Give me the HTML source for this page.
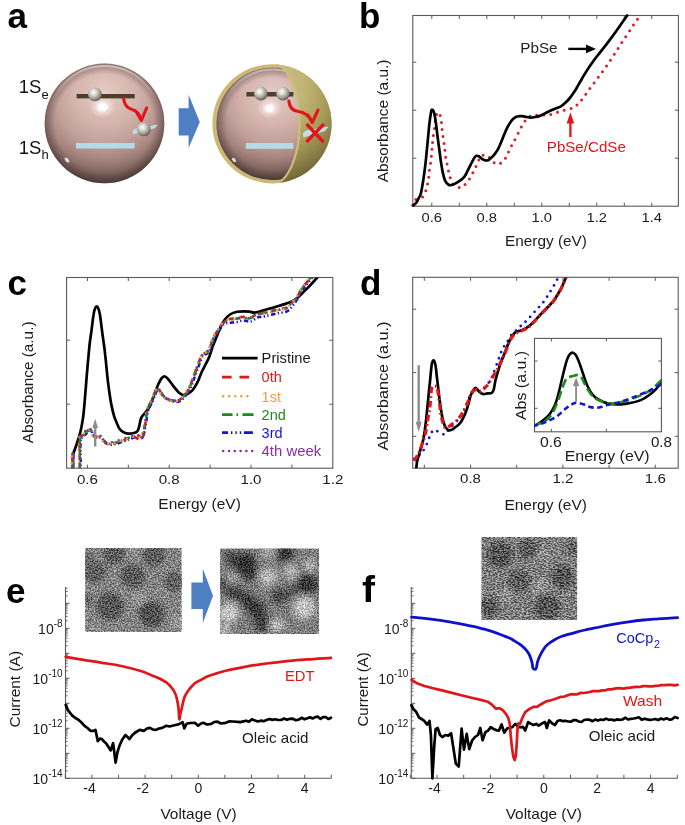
<!DOCTYPE html>
<html><head><meta charset="utf-8"><style>
html,body{margin:0;padding:0;background:#fff;}
svg{display:block;will-change:transform;}
</style></head><body>
<svg width="685" height="825" viewBox="0 0 685 825">
<rect width="685" height="825" fill="#fff"/>
<text font-family="Liberation Sans, sans-serif" x="7.5" y="28" font-size="35" fill="#000" font-weight="bold" >a</text>
<text font-family="Liberation Sans, sans-serif" x="359" y="28" font-size="35" fill="#000" font-weight="bold" >b</text>
<text font-family="Liberation Sans, sans-serif" x="7.5" y="294.5" font-size="35" fill="#000" font-weight="bold" >c</text>
<text font-family="Liberation Sans, sans-serif" x="360" y="294.5" font-size="35" fill="#000" font-weight="bold" >d</text>
<text font-family="Liberation Sans, sans-serif" x="6" y="602.5" font-size="35" fill="#000" font-weight="bold" >e</text>
<text font-family="Liberation Sans, sans-serif" x="362" y="602" font-size="36" font-weight="bold" fill="#000" textLength="13" lengthAdjust="spacingAndGlyphs">f</text>
<defs>
<radialGradient id="pink" cx="0.5" cy="0.25" r="0.85" fx="0.5" fy="0.25">
 <stop offset="0" stop-color="#e6cbc4"/>
 <stop offset="0.3" stop-color="#d5b5ae"/>
 <stop offset="0.5" stop-color="#c2a09a"/>
 <stop offset="0.65" stop-color="#a6857f"/>
 <stop offset="0.76" stop-color="#876963"/>
 <stop offset="0.86" stop-color="#624d49"/>
 <stop offset="1" stop-color="#463735"/>
</radialGradient>
<radialGradient id="edge" cx="0.5" cy="0.5" r="0.5">
 <stop offset="0.82" stop-color="#3a2a28" stop-opacity="0"/>
 <stop offset="0.97" stop-color="#3a2a28" stop-opacity="0.35"/>
 <stop offset="1" stop-color="#3a2a28" stop-opacity="0.5"/>
</radialGradient>
<radialGradient id="spec" cx="0.5" cy="0.5" r="0.5">
 <stop offset="0" stop-color="#ffffff" stop-opacity="1"/>
 <stop offset="0.3" stop-color="#ffffff" stop-opacity="0.95"/>
 <stop offset="0.55" stop-color="#fff4f0" stop-opacity="0.45"/>
 <stop offset="1" stop-color="#ffffff" stop-opacity="0"/>
</radialGradient>
<radialGradient id="olive" cx="0.4" cy="0.2" r="0.95" fx="0.4" fy="0.2">
 <stop offset="0" stop-color="#d6ca90"/>
 <stop offset="0.4" stop-color="#c0b475"/>
 <stop offset="0.62" stop-color="#a59958"/>
 <stop offset="0.82" stop-color="#7a703e"/>
 <stop offset="1" stop-color="#4c4628"/>
</radialGradient>
<clipPath id="outerclip"><circle cx="272" cy="123.8" r="59.6"/></clipPath>
<radialGradient id="ball" cx="0.4" cy="0.35" r="0.65">
 <stop offset="0" stop-color="#ffffff"/>
 <stop offset="0.35" stop-color="#d8d8cc"/>
 <stop offset="0.8" stop-color="#8c8c80"/>
 <stop offset="1" stop-color="#5c5c52"/>
</radialGradient>
<linearGradient id="rimg" x1="0" y1="0" x2="0" y2="1">
 <stop offset="0" stop-color="#fff" stop-opacity="0.55"/>
 <stop offset="0.3" stop-color="#fff" stop-opacity="0"/>
</linearGradient>
<clipPath id="shellclip"><path d="M271.1,62.6 A28.5,61.1 0 0 1 271.1,184.8 L340,184.8 L340,62.6 Z"/></clipPath>
</defs>
<circle cx="104.5" cy="123.4" r="59.8" fill="url(#pink)"/>
<circle cx="104.5" cy="123.4" r="59.8" fill="url(#edge)"/>
<circle cx="104.5" cy="121" r="55" fill="none" stroke="url(#rimg)" stroke-width="2.2" opacity="0.8"/>
<ellipse cx="102.5" cy="107" rx="13" ry="11" fill="url(#spec)"/>
<ellipse cx="67" cy="160" rx="3" ry="1.6" transform="rotate(50 67 160)" fill="#fff" opacity="0.8"/>
<rect x="76.6" y="94" width="58.1" height="4.4" fill="#4c3f2c"/>
<rect x="76" y="143" width="58.7" height="5.5" fill="#b4dbe6"/>
<circle cx="94.9" cy="94.4" r="6.9" fill="url(#ball)"/>
<path d="M132.5,131 L136,128.6 L158,124.4 L154.5,128.2 L133,134.2 Z" fill="#c2dcec"/>
<circle cx="143.8" cy="129.4" r="6.9" fill="url(#ball)"/>
<path d="M123.5,98.6 C124.5,105 127.5,108.5 132,109.5 C136,110.3 139,113 141.4,120" fill="none" stroke="#e0161b" stroke-width="3.1" stroke-linejoin="round" stroke-linecap="round"/>
<path d="M137.2,113.5 L141.4,120.4 L146.6,108" fill="none" stroke="#e0161b" stroke-width="3.1" stroke-linejoin="round" stroke-linecap="round"/>
<path d="M178.7,108.3 L188.6,108.3 L188.6,94.7 L199.8,122 L188.6,148 L188.6,135.6 L178.7,135.6 Z" fill="#4f7fc3"/>
<circle cx="272" cy="123.8" r="59.6" fill="#cdb874"/>
<circle cx="272.8" cy="123.8" r="56.3" fill="url(#pink)"/>
<circle cx="272.8" cy="123.8" r="56.3" fill="url(#edge)"/>
<circle cx="272.8" cy="121.5" r="52" fill="none" stroke="url(#rimg)" stroke-width="2" opacity="0.7"/>
<circle cx="272" cy="123.8" r="59.6" fill="url(#olive)" clip-path="url(#shellclip)"/>
<path d="M271.1,62.6 A28.5,61.1 0 0 1 271.1,184.8" fill="none" stroke="#d0bc7c" stroke-width="2.2" clip-path="url(#outerclip)"/>
<ellipse cx="269.5" cy="108.5" rx="12" ry="10" fill="url(#spec)"/>
<ellipse cx="234" cy="160" rx="2.6" ry="1.5" transform="rotate(50 234 160)" fill="#fff" opacity="0.8"/>
<rect x="246.4" y="92" width="47" height="4.5" fill="#4c3f2c"/>
<rect x="245.7" y="143" width="47.7" height="5.8" fill="#b4dbe6"/>
<circle cx="260.8" cy="93.6" r="6.8" fill="url(#ball)"/>
<circle cx="283" cy="93.6" r="6.8" fill="url(#ball)"/>
<path d="M302.8,133 L306,130.6 L328.8,126.2 L325,131 L303.5,137.6 Z" fill="#c2dcec"/>
<path d="M288.8,101 C289.5,108 293.5,111 298.5,111.5 C303.5,112 308,114 312.3,122" fill="none" stroke="#e0161b" stroke-width="3.1" stroke-linejoin="round" stroke-linecap="round"/>
<path d="M307.8,115 L312.4,122.4 L318,110" fill="none" stroke="#e0161b" stroke-width="3.1" stroke-linejoin="round" stroke-linecap="round"/>
<path d="M307.5,125 L322.5,141 M323,125 L307.3,141" fill="none" stroke="#e0161b" stroke-width="3.3" stroke-linejoin="round" stroke-linecap="round"/>
<text font-family="Liberation Sans, sans-serif" x="18.8" y="93.3" font-size="18.5" fill="#111">1S<tspan font-size="13" dy="5.3">e</tspan></text>
<text font-family="Liberation Sans, sans-serif" x="18.8" y="154" font-size="18.5" fill="#111">1S<tspan font-size="13" dy="5.3">h</tspan></text>
<rect x="412.8" y="15.5" width="265.6" height="190.7" fill="none" stroke="#5a5a5a" stroke-width="1.1"/>
<line x1="431.8" y1="206.2" x2="431.8" y2="202.7" stroke="#5a5a5a" stroke-width="1" />
<line x1="431.8" y1="15.5" x2="431.8" y2="19" stroke="#5a5a5a" stroke-width="1" />
<line x1="459.3" y1="206.2" x2="459.3" y2="202.7" stroke="#5a5a5a" stroke-width="1" />
<line x1="459.3" y1="15.5" x2="459.3" y2="19" stroke="#5a5a5a" stroke-width="1" />
<line x1="486.8" y1="206.2" x2="486.8" y2="202.7" stroke="#5a5a5a" stroke-width="1" />
<line x1="486.8" y1="15.5" x2="486.8" y2="19" stroke="#5a5a5a" stroke-width="1" />
<line x1="514.3" y1="206.2" x2="514.3" y2="202.7" stroke="#5a5a5a" stroke-width="1" />
<line x1="514.3" y1="15.5" x2="514.3" y2="19" stroke="#5a5a5a" stroke-width="1" />
<line x1="541.8" y1="206.2" x2="541.8" y2="202.7" stroke="#5a5a5a" stroke-width="1" />
<line x1="541.8" y1="15.5" x2="541.8" y2="19" stroke="#5a5a5a" stroke-width="1" />
<line x1="569.3" y1="206.2" x2="569.3" y2="202.7" stroke="#5a5a5a" stroke-width="1" />
<line x1="569.3" y1="15.5" x2="569.3" y2="19" stroke="#5a5a5a" stroke-width="1" />
<line x1="596.8" y1="206.2" x2="596.8" y2="202.7" stroke="#5a5a5a" stroke-width="1" />
<line x1="596.8" y1="15.5" x2="596.8" y2="19" stroke="#5a5a5a" stroke-width="1" />
<line x1="624.3" y1="206.2" x2="624.3" y2="202.7" stroke="#5a5a5a" stroke-width="1" />
<line x1="624.3" y1="15.5" x2="624.3" y2="19" stroke="#5a5a5a" stroke-width="1" />
<line x1="651.8" y1="206.2" x2="651.8" y2="202.7" stroke="#5a5a5a" stroke-width="1" />
<line x1="651.8" y1="15.5" x2="651.8" y2="19" stroke="#5a5a5a" stroke-width="1" />
<line x1="412.8" y1="158.2" x2="416.3" y2="158.2" stroke="#5a5a5a" stroke-width="1" />
<line x1="678.4" y1="158.2" x2="674.9" y2="158.2" stroke="#5a5a5a" stroke-width="1" />
<line x1="412.8" y1="110.2" x2="416.3" y2="110.2" stroke="#5a5a5a" stroke-width="1" />
<line x1="678.4" y1="110.2" x2="674.9" y2="110.2" stroke="#5a5a5a" stroke-width="1" />
<line x1="412.8" y1="62.2" x2="416.3" y2="62.2" stroke="#5a5a5a" stroke-width="1" />
<line x1="678.4" y1="62.2" x2="674.9" y2="62.2" stroke="#5a5a5a" stroke-width="1" />
<text font-family="Liberation Sans, sans-serif" x="431.8" y="222" font-size="13.5" fill="#1a1a1a" text-anchor="middle" textLength="20.5" lengthAdjust="spacingAndGlyphs" >0.6</text>
<text font-family="Liberation Sans, sans-serif" x="486.8" y="222" font-size="13.5" fill="#1a1a1a" text-anchor="middle" textLength="20.5" lengthAdjust="spacingAndGlyphs" >0.8</text>
<text font-family="Liberation Sans, sans-serif" x="541.8" y="222" font-size="13.5" fill="#1a1a1a" text-anchor="middle" textLength="20.5" lengthAdjust="spacingAndGlyphs" >1.0</text>
<text font-family="Liberation Sans, sans-serif" x="596.8" y="222" font-size="13.5" fill="#1a1a1a" text-anchor="middle" textLength="20.5" lengthAdjust="spacingAndGlyphs" >1.2</text>
<text font-family="Liberation Sans, sans-serif" x="651.8" y="222" font-size="13.5" fill="#1a1a1a" text-anchor="middle" textLength="20.5" lengthAdjust="spacingAndGlyphs" >1.4</text>
<text font-family="Liberation Sans, sans-serif" x="546" y="246.4" font-size="14.5" fill="#1a1a1a" text-anchor="middle" textLength="81.8" lengthAdjust="spacingAndGlyphs" >Energy (eV)</text>
<text font-family="Liberation Sans, sans-serif" x="388.3" y="120.9" font-size="14.5" fill="#1a1a1a" text-anchor="middle" textLength="122.8" lengthAdjust="spacingAndGlyphs" transform="rotate(-90 388.3 120.9)" >Absorbance (a.u.)</text>
<path d="M412.8,205 C413,204.2 413.1,201.4 414,200.4 C414.9,199.4 416.4,199.5 418,198.8 C419.6,198.1 421.9,197.8 423.3,196.3 C424.7,194.8 425.4,192.1 426.1,189.9 C426.9,187.7 427.3,185.2 427.8,182.9 C428.3,180.6 428.6,178.3 428.9,176 C429.2,173.7 429.2,171.4 429.5,169.1 C429.8,166.8 430.4,164.6 430.7,162.2 C431,159.8 431.3,157.1 431.5,154.7 C431.7,152.3 431.9,150.1 432.1,147.8 C432.3,145.5 432.4,143.3 432.7,140.9 C432.9,138.5 433.3,135.7 433.6,133.4 C433.9,131.1 434.4,129.4 434.7,127.1 C435,124.8 435.1,121.9 435.5,119.6 C435.9,117.3 436.4,114.3 437,113.2 C437.6,112.1 438.2,112.2 438.8,112.8 C439.4,113.4 440,114.9 440.5,116.7 C441,118.5 441.3,121.3 441.6,123.6 C441.9,125.9 441.9,128.2 442.2,130.5 C442.4,132.8 442.8,135 443.1,137.4 C443.5,139.8 444,142.5 444.3,144.9 C444.6,147.3 444.8,149.5 445.1,151.8 C445.4,154.1 445.5,156.5 445.9,158.8 C446.3,161.1 446.9,163.4 447.4,165.7 C447.9,168 448.3,170.3 448.9,172.6 C449.5,174.9 450,177.5 450.8,179.5 C451.6,181.5 452.2,183.3 453.7,184.7 C455.1,186 457.8,187.5 459.5,187.6 C461.2,187.7 462.4,186.9 464,185.5 C465.6,184.1 467.4,182.3 469.3,179.3 C471.2,176.3 473.5,171.4 475.4,167.7 C477.3,163.9 479.1,158.9 480.5,156.8 C481.9,154.7 482.5,155.5 483.5,155.3 C484.5,155.1 485.7,155.1 486.6,155.4 C487.6,155.7 488.4,156.5 489.2,157.3 C490,158.2 490.8,159.5 491.7,160.5 C492.6,161.5 493.8,162.6 494.8,163.2 C495.8,163.8 496.9,164.2 497.9,164.2 C498.9,164.2 500,163.6 501,163 C502,162.4 503,161.8 504,160.5 C505,159.2 506.2,157.1 507.2,155 C508.2,152.9 508.9,150.5 510.1,148.2 C511.3,145.9 512.5,144.3 514.2,141.1 C515.9,137.9 518.7,132 520.4,128.8 C522.1,125.6 523,123.6 524.4,121.7 C525.8,119.8 527.1,118.5 528.5,117.5 C529.9,116.5 530.2,115.9 532.6,115.5 C535,115.1 539.9,115.2 542.8,115.1 C545.7,114.9 547.3,115.2 550.2,114.6 C553.1,113.9 557.2,112.1 560.4,111.2 C563.6,110.3 567.1,110 569.6,109.1 C572.1,108.2 573.7,107.4 575.6,106 C577.5,104.6 578.7,103.6 580.9,100.9 C583.1,98.2 586.1,93.6 589,89.7 C591.9,85.8 595.3,81.3 598.2,77.4 C601.1,73.5 603.7,70.1 606.4,66.2 C609.1,62.3 612,57.8 614.6,53.9 C617.2,50 619.2,46.6 621.7,42.7 C624.2,38.8 627.9,33.5 629.9,30.4 C631.9,27.3 632.6,26.3 634,24.3 C635.4,22.3 637.1,19.7 638.1,18.2 C639.1,16.7 639.5,15.9 639.8,15.5" fill="none" stroke="#d81e28" stroke-width="3.0" stroke-linejoin="round" stroke-linecap="round" stroke-dasharray="0 7"/>
<path d="M413.1,205.5 C413.7,205 415.5,203.8 416.5,202.5 C417.5,201.2 418.3,199 419,197.5 C419.7,196 420.2,196.1 420.9,193.3 C421.6,190.5 422.4,185.6 423.2,180.6 C424,175.6 424.7,170.1 425.5,163.4 C426.3,156.7 427.1,147 427.8,140.3 C428.5,133.6 428.9,127.8 429.5,123 C430.1,118.2 430.7,113.7 431.2,111.5 C431.7,109.3 431.9,109.6 432.4,109.8 C432.9,110 433.5,110.5 434.1,112.7 C434.7,114.9 435.3,119 435.9,123 C436.5,127 437,132.5 437.6,136.9 C438.2,141.3 438.7,145.3 439.3,149.5 C439.9,153.7 440.4,158.3 441,162.2 C441.6,166 442.1,169.5 442.8,172.6 C443.5,175.7 444.2,178.6 445.1,180.6 C446.1,182.6 447.2,184 448.5,184.7 C449.8,185.4 451.2,185.1 452.6,184.7 C454.1,184.3 455.8,183.2 457.2,182.4 C458.6,181.6 459.9,180.9 461.1,179.9 C462.3,178.9 463.5,177.9 464.5,176.5 C465.5,175.1 466.3,173.4 467.2,171.7 C468.1,169.9 469.1,167.7 470,166 C470.9,164.3 471.6,162.9 472.3,161.5 C473.1,160.1 473.8,158.4 474.5,157.5 C475.2,156.6 475.7,156 476.4,155.8 C477.1,155.6 477.9,155.9 478.8,156.3 C479.7,156.8 480.6,157.9 481.5,158.5 C482.4,159.1 483.1,159.7 484,160 C484.9,160.3 485.8,160.5 486.6,160.5 C487.4,160.5 488.1,160.3 489,159.8 C489.9,159.3 490.7,158.4 491.7,157.4 C492.7,156.4 494,154.9 495,153.6 C496,152.2 496.9,151.2 497.9,149.3 C498.9,147.5 500,144.9 501,142.5 C502,140.1 503,137.4 504,135 C505,132.6 506,130.2 507,128.2 C508,126.1 509.1,124.2 510.1,122.7 C511.1,121.2 512,120 513,119 C514,118 515.2,117.3 516.3,116.8 C517.4,116.3 518.5,116.3 519.5,116.2 C520.5,116.1 521.2,116.1 522.4,116.2 C523.6,116.3 525.1,116.8 526.5,117 C527.9,117.2 529.1,117.6 530.6,117.6 C532.1,117.6 533.8,117.3 535.5,117 C537.2,116.7 538.7,116.4 540.8,115.5 C542.9,114.6 545.6,113 548.2,111.8 C550.8,110.6 554.2,109.2 556.3,108.3 C558.4,107.4 559.6,107.1 561,106.3 C562.4,105.5 563.4,104.6 564.5,103.6 C565.6,102.6 566.7,101.6 567.7,100.5 C568.7,99.4 569.7,98.2 570.7,96.9 C571.7,95.6 572.8,94 573.8,92.5 C574.8,91 575.7,89.6 576.8,87.7 C577.9,85.8 579.3,83.3 580.5,81.3 C581.7,79.2 582.7,77.4 583.9,75.4 C585.1,73.5 586.3,71.5 587.5,69.6 C588.7,67.7 589.7,66.2 591.1,64.2 C592.5,62.2 594.3,59.7 596,57.5 C597.7,55.3 598.7,54.2 601.3,50.9 C603.9,47.6 608.1,42.2 611.5,37.6 C614.9,33 619.1,27 621.7,23.3 C624.3,19.6 626.3,16.8 627.2,15.5" fill="none" stroke="#000" stroke-width="2.7" stroke-linejoin="round" stroke-linecap="round"/>
<text font-family="Liberation Sans, sans-serif" x="520.2" y="53.1" font-size="14.5" fill="#222" textLength="37.4" lengthAdjust="spacingAndGlyphs" >PbSe</text>
<line x1="568.3" y1="48.9" x2="588" y2="48.9" stroke="#000" stroke-width="2.4" />
<path d="M586,44.6 L596,48.9 L586,53.2 Z" fill="#000"/>
<line x1="570.4" y1="137" x2="570.4" y2="122" stroke="#e0161b" stroke-width="2.3" />
<path d="M566.6,123.5 L570.4,112.2 L574.2,123.5 Z" fill="#e0161b"/>
<text font-family="Liberation Sans, sans-serif" x="546.8" y="152.4" font-size="14.5" fill="#e0161b" textLength="79" lengthAdjust="spacingAndGlyphs" >PbSe/CdSe</text>
<clipPath id="clipc"><rect x="66.6" y="277.5" width="266.20000000000005" height="190.7"/></clipPath>
<rect x="66.6" y="277.5" width="266.2" height="190.7" fill="none" stroke="#5a5a5a" stroke-width="1.1"/>
<line x1="87.4" y1="468.2" x2="87.4" y2="464.7" stroke="#5a5a5a" stroke-width="1" />
<line x1="87.4" y1="277.5" x2="87.4" y2="281" stroke="#5a5a5a" stroke-width="1" />
<line x1="128.3" y1="468.2" x2="128.3" y2="464.7" stroke="#5a5a5a" stroke-width="1" />
<line x1="128.3" y1="277.5" x2="128.3" y2="281" stroke="#5a5a5a" stroke-width="1" />
<line x1="169.2" y1="468.2" x2="169.2" y2="464.7" stroke="#5a5a5a" stroke-width="1" />
<line x1="169.2" y1="277.5" x2="169.2" y2="281" stroke="#5a5a5a" stroke-width="1" />
<line x1="210.1" y1="468.2" x2="210.1" y2="464.7" stroke="#5a5a5a" stroke-width="1" />
<line x1="210.1" y1="277.5" x2="210.1" y2="281" stroke="#5a5a5a" stroke-width="1" />
<line x1="251" y1="468.2" x2="251" y2="464.7" stroke="#5a5a5a" stroke-width="1" />
<line x1="251" y1="277.5" x2="251" y2="281" stroke="#5a5a5a" stroke-width="1" />
<line x1="291.9" y1="468.2" x2="291.9" y2="464.7" stroke="#5a5a5a" stroke-width="1" />
<line x1="291.9" y1="277.5" x2="291.9" y2="281" stroke="#5a5a5a" stroke-width="1" />
<line x1="66.6" y1="340.2" x2="70.1" y2="340.2" stroke="#5a5a5a" stroke-width="1" />
<line x1="332.8" y1="340.2" x2="329.3" y2="340.2" stroke="#5a5a5a" stroke-width="1" />
<line x1="66.6" y1="404.2" x2="70.1" y2="404.2" stroke="#5a5a5a" stroke-width="1" />
<line x1="332.8" y1="404.2" x2="329.3" y2="404.2" stroke="#5a5a5a" stroke-width="1" />
<text font-family="Liberation Sans, sans-serif" x="87.4" y="483.5" font-size="13.5" fill="#1a1a1a" text-anchor="middle" textLength="21" lengthAdjust="spacingAndGlyphs" >0.6</text>
<text font-family="Liberation Sans, sans-serif" x="169.2" y="483.5" font-size="13.5" fill="#1a1a1a" text-anchor="middle" textLength="21" lengthAdjust="spacingAndGlyphs" >0.8</text>
<text font-family="Liberation Sans, sans-serif" x="251" y="483.5" font-size="13.5" fill="#1a1a1a" text-anchor="middle" textLength="21" lengthAdjust="spacingAndGlyphs" >1.0</text>
<text font-family="Liberation Sans, sans-serif" x="332.8" y="483.5" font-size="13.5" fill="#1a1a1a" text-anchor="middle" textLength="21" lengthAdjust="spacingAndGlyphs" >1.2</text>
<text font-family="Liberation Sans, sans-serif" x="199.6" y="508.8" font-size="14.5" fill="#1a1a1a" text-anchor="middle" textLength="82.5" lengthAdjust="spacingAndGlyphs" >Energy (eV)</text>
<text font-family="Liberation Sans, sans-serif" x="32.6" y="382.4" font-size="14.5" fill="#1a1a1a" text-anchor="middle" textLength="121.8" lengthAdjust="spacingAndGlyphs" transform="rotate(-90 32.6 382.4)" >Absorbance (a.u.)</text>
<g clip-path="url(#clipc)">
<path d="M72.2,458 C72.4,457.2 72.9,455 73.5,453 C74.1,451 75.2,448.5 76,446.1 C76.8,443.7 77.8,440.9 78.5,438.5 C79.2,436.1 79.8,434.5 80.4,431.9 C81,429.3 81.7,426.3 82.2,423 C82.8,419.7 83.2,417.4 83.7,412.3 C84.2,407.2 84.9,399.1 85.4,392.5 C86,385.9 86.5,378.4 87,372.7 C87.5,367 87.8,363 88.3,358.1 C88.8,353.2 89.1,348.4 89.7,343.5 C90.3,338.6 91.1,333.9 91.7,329 C92.3,324.1 93,317.8 93.6,314.4 C94.1,311 94.5,310 95,308.6 C95.5,307.2 96.1,306.3 96.7,306.3 C97.3,306.3 97.9,307.2 98.4,308.6 C98.9,310 99.3,311 99.9,314.4 C100.5,317.8 101.2,324.1 101.8,329 C102.4,333.9 103.2,339.2 103.8,343.5 C104.4,347.8 104.8,351 105.2,355 C105.7,359 106.1,363.5 106.5,367.7 C106.9,371.9 107.3,376.1 107.8,380.4 C108.3,384.6 108.9,388.9 109.5,393.2 C110.1,397.4 110.8,402.1 111.6,405.9 C112.4,409.7 113.2,413.1 114.1,416.1 C115,419.1 116.2,421.6 117.1,423.7 C118,425.8 118.5,427.4 119.5,428.8 C120.5,430.2 121.5,431.1 122.9,431.9 C124.3,432.7 126.2,433.4 128,433.6 C129.8,433.8 132.5,433.3 133.9,433 C135.3,432.7 135.8,432.6 136.5,432 C137.2,431.4 137.7,430.9 138.2,429.7 C138.7,428.5 139.1,426.8 139.5,425 C139.9,423.2 140.4,420.3 140.9,418.8 C141.4,417.3 141.8,416.7 142.3,416 C142.8,415.3 142.7,415.7 143.7,414.5 C144.7,413.3 146.9,410.9 148.1,409 C149.3,407.1 149.9,405.5 151,403 C152.1,400.5 153.3,397.1 154.5,394 C155.7,390.9 157,387.1 158.2,384.5 C159.4,381.9 160.4,379.8 161.5,378.4 C162.6,377 163.4,376.3 164.5,376.4 C165.6,376.5 166.7,377.4 168.2,379.1 C169.7,380.8 171.8,384.1 173.6,386.4 C175.4,388.7 177.4,391.2 179.1,392.7 C180.8,394.1 182.1,395 183.6,395.1 C185.1,395.2 186.7,394.5 188.2,393.6 C189.7,392.8 191.2,391.8 192.7,390 C194.2,388.2 195.8,385.7 197.3,382.7 C198.8,379.7 200.4,374.8 201.8,371.8 C203.2,368.8 204.3,366.9 205.5,364.5 C206.7,362.1 207.9,360.3 209.1,357.3 C210.3,354.3 211.5,349.7 212.7,346.4 C213.9,343.1 215.2,340.3 216.4,337.3 C217.6,334.3 218.7,331.1 220,328.2 C221.3,325.3 222.8,322.3 224.5,320 C226.2,317.7 227.9,315.9 230,314.5 C232.1,313.1 234.9,312.3 237.3,311.8 C239.7,311.3 242.4,311.3 244.5,311.3 C246.6,311.3 248,311.4 249.6,311.6 C251.2,311.8 252.4,312.6 254,312.6 C255.6,312.6 257.3,312.2 259,311.8 C260.7,311.4 261.4,310.9 264.2,310.1 C267,309.3 272.2,307.9 275.9,306.8 C279.5,305.7 283.2,304.6 286.1,303.6 C289,302.6 291.2,301.9 293.4,300.7 C295.6,299.5 297.2,298 299.2,296.3 C301.1,294.6 303.2,292.3 305.1,290.4 C307.1,288.4 308.8,286.9 310.9,284.6 C313,282.3 316.8,277.9 318,276.5" fill="none" stroke="#000" stroke-width="2.7" stroke-linejoin="round" stroke-linecap="round"/>
<path d="M73.3,474.9 C73.3,471.4 73.4,453.9 73.5,453.9 C73.6,453.9 73,471.4 74.1,474.9 C75.2,478.4 79,480.6 80.1,474.9 C81.2,469.2 80.2,447.1 80.6,440.9 C81,434.6 81.6,438.5 82.4,437.4 C83.2,436.3 84.4,435.3 85.4,434.4 C86.4,433.5 87.4,432.6 88.4,431.9 C89.4,431.2 90.6,429.9 91.3,430.4 C92.1,430.9 92.3,433.8 92.9,434.9 C93.5,436 94.1,436.4 94.9,436.9 C95.7,437.4 96.6,437.8 97.7,437.9 C98.8,438 100.3,437.1 101.4,437.7 C102.5,438.3 103.4,440.6 104.3,441.6 C105.2,442.6 105.9,443.3 106.9,443.9 C107.9,444.4 109,444.8 110.2,444.9 C111.4,445 112.7,444.6 113.9,444.4 C115.1,444.2 116.1,444.1 117.3,443.7 C118.6,443.3 120,442.6 121.4,442.1 C122.9,441.6 124.5,441.1 126,440.5 C127.5,439.9 128.9,439.2 130.4,438.7 C131.9,438.2 133.4,437.7 134.8,437.4 C136.2,437.1 137.6,436.8 138.9,436.9 C140.2,437 141.5,438.7 142.4,437.9 C143.3,437.1 143.8,434.6 144.4,431.9 C145,429.2 145.6,425.2 146.2,421.9 C146.8,418.6 147.4,414.3 147.9,411.9 C148.4,409.5 148.7,409 149.4,407.4 C150.1,405.8 151.4,404 152.2,402.3 C153,400.5 153.7,398.7 154.4,396.9 C155.1,395.1 155.9,392.5 156.6,391.3 C157.3,390.1 157.8,389.9 158.4,389.9 C159,389.9 159.4,390.2 160.4,391.4 C161.4,392.6 162.8,395.7 164.5,397.3 C166.2,398.9 168.6,400.1 170.9,400.9 C173.2,401.6 176.1,402.2 178.2,401.8 C180.3,401.3 181.8,400 183.6,398.2 C185.4,396.4 187.4,393.9 189.1,390.9 C190.8,387.9 192.1,383.9 193.6,380 C195.1,376.1 196.7,371.2 198.2,367.3 C199.7,363.4 201.2,358.7 202.7,356.4 C204.2,354.1 205.9,354.8 207.3,353.4 C208.7,352 209.7,350.6 210.9,348.1 C212.1,345.6 213.1,341.1 214.5,338.2 C215.9,335.3 217.6,333.2 219.1,330.9 C220.6,328.6 221.9,325.8 223.6,324.5 C225.3,323.2 227,323.3 229.1,322.9 C231.2,322.5 234,322.4 236.4,322 C238.8,321.6 241.2,320.6 243.6,320.5 C245.9,320.4 248.1,322 250.5,321.5 C252.9,321 255.4,318.3 257.8,317.4 C260.2,316.5 261.9,316.9 265.1,316.2 C268.3,315.5 273.1,314.2 276.8,313.4 C280.4,312.6 284.3,312.6 287,311.3 C289.7,310 291.1,307.7 292.8,305.7 C294.5,303.7 295.7,301.8 297.2,299.4 C298.7,297 300.4,293.4 301.6,291.3 C302.8,289.2 303.3,288.6 304.5,287 C305.7,285.4 307.6,283.5 308.9,281.9 C310.2,280.3 311.6,278.1 312.2,277.4" fill="none" stroke="#1414d2" stroke-width="2.5" stroke-linejoin="round" stroke-dasharray="4.5 2.4 1.3 2.4 1.3 2.4" stroke-dashoffset="7"/>
<path d="M72.4,474 C72.4,470.5 72.5,453 72.6,453 C72.7,453 72.1,470.5 73.2,474 C74.3,477.5 78.1,479.7 79.2,474 C80.3,468.3 79.3,446.2 79.7,440 C80.1,433.8 80.7,437.6 81.5,436.5 C82.3,435.4 83.5,434.4 84.5,433.5 C85.5,432.6 86.5,431.7 87.5,431 C88.5,430.3 89.7,429 90.4,429.5 C91.2,430 91.4,432.9 92,434 C92.6,435.1 93.2,435.5 94,436 C94.8,436.5 95.7,436.9 96.8,437 C97.9,437.1 99.4,436.2 100.5,436.8 C101.6,437.4 102.5,439.7 103.4,440.7 C104.3,441.7 105,442.4 106,443 C107,443.6 108.1,443.9 109.3,444 C110.5,444.1 111.8,443.7 113,443.5 C114.2,443.3 115.2,443.2 116.4,442.8 C117.7,442.4 119,441.7 120.5,441.2 C122,440.7 123.6,440.2 125.1,439.6 C126.6,439 128,438.3 129.5,437.8 C131,437.3 132.5,436.3 133.9,436.5 C135.3,436.7 136.7,438.4 138,439 C139.3,439.6 140.6,440.8 141.5,440 C142.4,439.2 142.9,436.7 143.5,434 C144.1,431.3 144.7,427.8 145.3,424 C145.9,420.2 146.5,413.9 147,411 C147.5,408.1 147.8,408.1 148.5,406.5 C149.2,404.9 150.5,403.1 151.3,401.4 C152.1,399.6 152.8,397.8 153.5,396 C154.2,394.2 155,391.6 155.7,390.4 C156.4,389.2 156.9,389 157.5,389 C158.1,389 158.5,389.3 159.5,390.5 C160.5,391.7 161.8,394.8 163.6,396.4 C165.3,398 167.7,399.2 170,400 C172.3,400.8 175.2,401.3 177.3,400.9 C179.4,400.4 180.9,399.1 182.7,397.3 C184.5,395.5 186.5,393 188.2,390 C189.9,387 191.2,383 192.7,379.1 C194.2,375.2 195.8,370.3 197.3,366.4 C198.8,362.5 200.3,357.8 201.8,355.5 C203.3,353.2 205,353.9 206.4,352.5 C207.8,351.1 208.8,349.7 210,347.2 C211.2,344.7 212.2,340.2 213.6,337.3 C215,334.4 216.7,332.3 218.2,330 C219.7,327.7 220.9,325.4 222.7,323.6 C224.4,321.8 226.5,320.1 228.7,319.2 C230.9,318.3 233.6,318.7 236,318.3 C238.4,317.9 240.8,316.9 243.2,316.8 C245.5,316.7 247.7,318.3 250.1,317.8 C252.5,317.3 255,314.6 257.4,313.7 C259.8,312.8 261.5,313.2 264.7,312.5 C267.9,311.8 272.8,310.5 276.4,309.7 C280,308.9 283.9,308.9 286.6,307.6 C289.3,306.3 290.7,303.6 292.4,302 C294.1,300.4 295.4,299.6 296.8,297.7 C298.2,295.8 299.6,292.3 300.7,290.4 C301.8,288.5 302.4,287.7 303.6,286.1 C304.8,284.5 306.7,282.6 308,281 C309.3,279.4 310.8,277.2 311.3,276.5" fill="none" stroke="#e0161b" stroke-width="2.6" stroke-linejoin="round" stroke-dasharray="5.5 5.5"/>
<path d="M72.6,473.7 C72.6,470.2 72.7,452.7 72.8,452.7 C72.9,452.7 72.3,470.2 73.4,473.7 C74.5,477.2 78.3,479.4 79.4,473.7 C80.5,468 79.5,445.9 79.9,439.7 C80.3,433.4 80.9,437.3 81.7,436.2 C82.5,435.1 83.7,434.1 84.7,433.2 C85.7,432.3 86.7,431.4 87.7,430.7 C88.7,430 89.9,428.7 90.6,429.2 C91.4,429.7 91.6,432.6 92.2,433.7 C92.8,434.8 93.4,435.2 94.2,435.7 C95,436.2 95.9,436.6 97,436.7 C98.1,436.8 99.6,435.9 100.7,436.5 C101.8,437.1 102.7,439.4 103.6,440.4 C104.5,441.4 105.2,442.1 106.2,442.7 C107.2,443.2 108.3,443.6 109.5,443.7 C110.7,443.8 112,443.4 113.2,443.2 C114.4,443 115.4,442.9 116.6,442.5 C117.9,442.1 119.2,441.4 120.7,440.9 C122.2,440.4 123.8,439.9 125.3,439.3 C126.8,438.7 128.2,438 129.7,437.5 C131.2,437 132.7,436.5 134.1,436.2 C135.5,435.9 136.9,435.6 138.2,435.7 C139.5,435.8 140.8,437.5 141.7,436.7 C142.6,435.9 143.1,433.4 143.7,430.7 C144.3,428 144.9,424 145.5,420.7 C146.1,417.4 146.7,413.1 147.2,410.7 C147.7,408.3 148,407.8 148.7,406.2 C149.4,404.6 150.7,402.8 151.5,401.1 C152.3,399.3 153,397.5 153.7,395.7 C154.4,393.9 155.2,391.3 155.9,390.1 C156.6,388.9 157.1,388.7 157.7,388.7 C158.3,388.7 158.7,389 159.7,390.2 C160.7,391.4 162,394.5 163.8,396.1 C165.5,397.7 167.9,398.9 170.2,399.7 C172.5,400.4 175.4,401 177.5,400.6 C179.6,400.1 181.1,398.8 182.9,397 C184.7,395.2 186.7,392.7 188.4,389.7 C190.1,386.7 191.4,382.7 192.9,378.8 C194.4,374.9 196,370 197.5,366.1 C199,362.2 200.5,357.5 202,355.2 C203.5,352.9 205.2,353.6 206.6,352.2 C208,350.8 209,349.4 210.2,346.9 C211.4,344.4 212.4,339.9 213.8,337 C215.2,334.1 216.9,332 218.4,329.7 C219.9,327.4 221.2,325 222.9,323.3 C224.6,321.6 226.3,320.4 228.4,319.7 C230.5,318.9 233.3,319.2 235.7,318.8 C238.1,318.4 240.5,317.4 242.9,317.3 C245.2,317.2 247.4,318.8 249.8,318.3 C252.2,317.8 254.7,315.1 257.1,314.2 C259.5,313.3 261.2,313.7 264.4,313 C267.6,312.3 272.4,311 276.1,310.2 C279.8,309.4 283.6,309.4 286.3,308.1 C289,306.8 290.4,304.1 292.1,302.5 C293.8,300.9 295,300.3 296.5,298.2 C298,296.1 299.7,292.2 300.9,290.1 C302.1,288 302.6,287.4 303.8,285.8 C305,284.2 306.9,282.3 308.2,280.7 C309.5,279.1 310.9,276.9 311.5,276.2" fill="none" stroke="#1d8a1d" stroke-width="2.6" stroke-linejoin="round" stroke-dasharray="5 3 1.4 3" stroke-dashoffset="4"/>
<path d="M71.6,474.3 C71.6,470.8 71.7,453.3 71.8,453.3 C71.9,453.3 71.3,470.8 72.4,474.3 C73.5,477.8 77.3,480 78.4,474.3 C79.5,468.6 78.5,446.6 78.9,440.3 C79.3,434.1 79.9,437.9 80.7,436.8 C81.5,435.7 82.7,434.7 83.7,433.8 C84.7,432.9 85.7,432 86.7,431.3 C87.7,430.6 88.9,429.3 89.6,429.8 C90.4,430.3 90.6,433.2 91.2,434.3 C91.8,435.4 92.4,435.8 93.2,436.3 C94,436.8 94.9,437.2 96,437.3 C97.1,437.4 98.6,436.5 99.7,437.1 C100.8,437.7 101.7,440 102.6,441 C103.5,442 104.2,442.8 105.2,443.3 C106.2,443.9 107.3,444.2 108.5,444.3 C109.7,444.4 111,444 112.2,443.8 C113.4,443.6 114.4,443.5 115.6,443.1 C116.9,442.7 118.2,442 119.7,441.5 C121.2,441 122.8,440.5 124.3,439.9 C125.8,439.3 127.2,438.6 128.7,438.1 C130.2,437.6 131.7,437.1 133.1,436.8 C134.5,436.5 135.9,436.2 137.2,436.3 C138.5,436.4 139.8,438.1 140.7,437.3 C141.6,436.5 142.1,434 142.7,431.3 C143.3,428.6 143.9,424.6 144.5,421.3 C145.1,418 145.7,413.7 146.2,411.3 C146.7,408.9 147,408.4 147.7,406.8 C148.4,405.2 149.7,403.4 150.5,401.7 C151.3,399.9 152,398.1 152.7,396.3 C153.4,394.5 154.2,391.9 154.9,390.7 C155.6,389.5 156.1,389.3 156.7,389.3 C157.3,389.3 157.7,389.6 158.7,390.8 C159.7,392 161,395.1 162.8,396.7 C164.5,398.3 166.9,399.6 169.2,400.3 C171.5,401.1 174.4,401.6 176.5,401.2 C178.6,400.8 180.1,399.4 181.9,397.6 C183.7,395.8 185.7,393.3 187.4,390.3 C189.1,387.3 190.4,383.3 191.9,379.4 C193.4,375.5 195,370.6 196.5,366.7 C198,362.8 199.5,358.1 201,355.8 C202.5,353.5 204.2,354.2 205.6,352.8 C207,351.4 208,350 209.2,347.5 C210.4,345 211.4,340.5 212.8,337.6 C214.2,334.7 215.9,332.6 217.4,330.3 C218.9,328 220.2,325.6 221.9,323.9 C223.6,322.2 225.3,321.1 227.4,320.3 C229.5,319.6 232.3,319.8 234.7,319.4 C237.1,319 239.5,318 241.9,317.9 C244.2,317.8 246.4,319.4 248.8,318.9 C251.2,318.4 253.7,315.7 256.1,314.8 C258.5,313.9 260.2,314.3 263.4,313.6 C266.6,312.9 271.4,311.6 275.1,310.8 C278.8,310 282.6,310 285.3,308.7 C288,307.4 289.4,304.8 291.1,303.1 C292.8,301.5 294,300.9 295.5,298.8 C297,296.7 298.7,292.8 299.9,290.7 C301.1,288.6 301.6,288 302.8,286.4 C304,284.8 305.9,282.9 307.2,281.3 C308.5,279.7 309.9,277.6 310.5,276.8" fill="none" stroke="#f29b3c" stroke-width="2.4" stroke-linejoin="round" stroke-linecap="round" stroke-dasharray="0 6.5" stroke-dashoffset="2"/>
<path d="M72.4,474 C72.4,470.5 72.5,453 72.6,453 C72.7,453 72.1,470.5 73.2,474 C74.3,477.5 78.1,479.7 79.2,474 C80.3,468.3 79.4,446.5 79.7,440 C80,433.5 80.2,436.4 80.9,435.1 C81.6,433.8 82.9,433 83.9,432.1 C84.9,431.2 85.9,430.3 86.9,429.6 C87.9,428.9 89.1,427.6 89.8,428.1 C90.6,428.6 90.8,431.5 91.4,432.6 C92,433.7 92.6,434.1 93.4,434.6 C94.2,435.1 95.1,435.5 96.2,435.6 C97.3,435.7 98.8,434.8 99.9,435.4 C101,436 101.9,438.3 102.8,439.3 C103.7,440.3 104.4,441.1 105.4,441.6 C106.4,442.2 107.5,442.5 108.7,442.6 C109.9,442.7 111.2,442.3 112.4,442.1 C113.6,441.9 114.6,441.8 115.8,441.4 C117.1,441 118.5,440.3 119.9,439.8 C121.4,439.3 123,438.8 124.5,438.2 C126,437.6 127.4,436.9 128.9,436.4 C130.4,435.9 131.9,435.4 133.3,435.1 C134.7,434.8 136,434.3 137.4,434.6 C138.8,434.9 140.5,437.6 141.5,437 C142.5,436.4 142.9,433.7 143.5,431 C144.1,428.3 144.7,424.3 145.3,421 C145.9,417.7 146.5,413.4 147,411 C147.5,408.6 147.8,408.1 148.5,406.5 C149.2,404.9 150.5,403.1 151.3,401.4 C152.1,399.6 152.8,397.8 153.5,396 C154.2,394.2 155,391.6 155.7,390.4 C156.4,389.2 156.9,389 157.5,389 C158.1,389 158.5,389.3 159.5,390.5 C160.5,391.7 161.8,394.8 163.6,396.4 C165.3,398 167.7,399.2 170,400 C172.3,400.8 175.2,401.3 177.3,400.9 C179.4,400.4 180.9,399.1 182.7,397.3 C184.5,395.5 186.5,393 188.2,390 C189.9,387 191.2,383 192.7,379.1 C194.2,375.2 195.8,370.3 197.3,366.4 C198.8,362.5 200.3,357.8 201.8,355.5 C203.3,353.2 205,353.9 206.4,352.5 C207.8,351.1 208.8,349.7 210,347.2 C211.2,344.7 212.2,340.2 213.6,337.3 C215,334.4 216.7,332.3 218.2,330 C219.7,327.7 221,325.3 222.7,323.6 C224.4,321.9 226.1,320.8 228.2,320 C230.3,319.2 233.1,319.5 235.5,319.1 C237.9,318.7 240.3,317.7 242.7,317.6 C245,317.5 247.2,319.1 249.6,318.6 C252,318.1 254.5,315.4 256.9,314.5 C259.3,313.6 261,314 264.2,313.3 C267.4,312.6 272.2,311.3 275.9,310.5 C279.5,309.7 283.4,309.7 286.1,308.4 C288.8,307.1 290.2,304.4 291.9,302.8 C293.6,301.2 294.8,300.6 296.3,298.5 C297.8,296.4 299.5,292.5 300.7,290.4 C301.9,288.3 302.4,287.7 303.6,286.1 C304.8,284.5 306.7,282.6 308,281 C309.3,279.4 310.8,277.2 311.3,276.5" fill="none" stroke="#8b2e9b" stroke-width="2.4" stroke-linejoin="round" stroke-linecap="round" stroke-dasharray="0 7" stroke-dashoffset="1"/>
</g>
<line x1="95.2" y1="446.5" x2="95.2" y2="427" stroke="#8c8c8c" stroke-width="2.4" />
<path d="M92.3,428 L95.2,418.8 L98.1,428 Z" fill="#8c8c8c"/>
<line x1="222" y1="358.1" x2="257.6" y2="358.1" stroke="#000" stroke-width="2.7" />
<line x1="222" y1="377.1" x2="249.2" y2="377.1" stroke="#e0161b" stroke-width="2.8" stroke-dasharray="9.6 7.9"/>
<line x1="223.2" y1="396.3" x2="247.5" y2="396.3" stroke="#f29b3c" stroke-width="2.5" stroke-linecap="round" stroke-dasharray="0 6.05"/>
<line x1="222" y1="414.6" x2="253.5" y2="414.6" stroke="#1d8a1d" stroke-width="2.8" stroke-dasharray="10.5 4 1.6 4.4 11"/>
<line x1="222" y1="432.6" x2="256.2" y2="432.6" stroke="#1414d2" stroke-width="2.8" stroke-dasharray="6 3 1.4 3 1.4 3 1.4 2.7 9"/>
<line x1="223.2" y1="451" x2="252.5" y2="451" stroke="#8b2e9b" stroke-width="2.5" stroke-linecap="round" stroke-dasharray="0 5.8"/>
<text font-family="Liberation Sans, sans-serif" x="261.6" y="363.3" font-size="14.5" fill="#1a1a1a" textLength="49" lengthAdjust="spacingAndGlyphs" >Pristine</text>
<text font-family="Liberation Sans, sans-serif" x="261.6" y="382.3" font-size="14.5" fill="#e0161b" >0th</text>
<text font-family="Liberation Sans, sans-serif" x="261.6" y="401.5" font-size="14.5" fill="#f29b3c" >1st</text>
<text font-family="Liberation Sans, sans-serif" x="261.6" y="419.8" font-size="14.5" fill="#1d8a1d" >2nd</text>
<text font-family="Liberation Sans, sans-serif" x="261.6" y="437.8" font-size="14.5" fill="#1414d2" >3rd</text>
<text font-family="Liberation Sans, sans-serif" x="261.6" y="456.2" font-size="14.5" fill="#8b2e9b" textLength="59.6" lengthAdjust="spacingAndGlyphs" >4th week</text>
<clipPath id="clipd"><rect x="412.7" y="277.3" width="265.50000000000006" height="190.89999999999998"/></clipPath>
<rect x="412.7" y="277.3" width="265.5" height="190.9" fill="none" stroke="#5a5a5a" stroke-width="1.1"/>
<line x1="424.3" y1="468.2" x2="424.3" y2="464.7" stroke="#5a5a5a" stroke-width="1" />
<line x1="424.3" y1="277.3" x2="424.3" y2="280.8" stroke="#5a5a5a" stroke-width="1" />
<line x1="470.5" y1="468.2" x2="470.5" y2="464.7" stroke="#5a5a5a" stroke-width="1" />
<line x1="470.5" y1="277.3" x2="470.5" y2="280.8" stroke="#5a5a5a" stroke-width="1" />
<line x1="516.7" y1="468.2" x2="516.7" y2="464.7" stroke="#5a5a5a" stroke-width="1" />
<line x1="516.7" y1="277.3" x2="516.7" y2="280.8" stroke="#5a5a5a" stroke-width="1" />
<line x1="562.9" y1="468.2" x2="562.9" y2="464.7" stroke="#5a5a5a" stroke-width="1" />
<line x1="562.9" y1="277.3" x2="562.9" y2="280.8" stroke="#5a5a5a" stroke-width="1" />
<line x1="609.1" y1="468.2" x2="609.1" y2="464.7" stroke="#5a5a5a" stroke-width="1" />
<line x1="609.1" y1="277.3" x2="609.1" y2="280.8" stroke="#5a5a5a" stroke-width="1" />
<line x1="655.3" y1="468.2" x2="655.3" y2="464.7" stroke="#5a5a5a" stroke-width="1" />
<line x1="655.3" y1="277.3" x2="655.3" y2="280.8" stroke="#5a5a5a" stroke-width="1" />
<line x1="412.7" y1="309.2" x2="416.2" y2="309.2" stroke="#5a5a5a" stroke-width="1" />
<line x1="678.2" y1="309.2" x2="674.7" y2="309.2" stroke="#5a5a5a" stroke-width="1" />
<line x1="412.7" y1="372.6" x2="416.2" y2="372.6" stroke="#5a5a5a" stroke-width="1" />
<line x1="678.2" y1="372.6" x2="674.7" y2="372.6" stroke="#5a5a5a" stroke-width="1" />
<line x1="412.7" y1="436.3" x2="416.2" y2="436.3" stroke="#5a5a5a" stroke-width="1" />
<line x1="678.2" y1="436.3" x2="674.7" y2="436.3" stroke="#5a5a5a" stroke-width="1" />
<text font-family="Liberation Sans, sans-serif" x="470.5" y="483.3" font-size="13.5" fill="#1a1a1a" text-anchor="middle" textLength="21" lengthAdjust="spacingAndGlyphs" >0.8</text>
<text font-family="Liberation Sans, sans-serif" x="562.9" y="483.3" font-size="13.5" fill="#1a1a1a" text-anchor="middle" textLength="21" lengthAdjust="spacingAndGlyphs" >1.2</text>
<text font-family="Liberation Sans, sans-serif" x="655.3" y="483.3" font-size="13.5" fill="#1a1a1a" text-anchor="middle" textLength="21" lengthAdjust="spacingAndGlyphs" >1.6</text>
<text font-family="Liberation Sans, sans-serif" x="545.7" y="509.6" font-size="14.5" fill="#1a1a1a" text-anchor="middle" textLength="82.5" lengthAdjust="spacingAndGlyphs" >Energy (eV)</text>
<text font-family="Liberation Sans, sans-serif" x="388.2" y="386" font-size="14.5" fill="#1a1a1a" text-anchor="middle" textLength="129" lengthAdjust="spacingAndGlyphs" transform="rotate(-90 388.2 386)" >Absorbance (a.u.)</text>
<g clip-path="url(#clipd)">
<path d="M414.2,458.9 C414.8,458.5 416.4,457.4 417.5,456.5 C418.6,455.6 419.8,454.8 421,453.4 C422.2,452 423.8,450 425,447.9 C426.2,445.8 427.2,443 428.1,440.8 C429,438.6 429.6,436.3 430.5,434.5 C431.4,432.7 432.6,430.6 433.6,430 C434.6,429.4 435.6,430.4 436.5,430.8 C437.4,431.2 437.8,431.5 439.1,432.1 C440.5,432.7 443.2,434.7 444.6,434.5 C446,434.3 446.4,432.2 447.5,431 C448.6,429.8 449,429.4 450.9,427.4 C452.8,425.3 456.7,421.2 458.8,418.7 C460.9,416.2 462.3,414.5 463.5,412.4 C464.7,410.3 465.2,408.1 466,406 C466.8,403.9 467.6,401.7 468.3,399.8 C469.1,397.9 469.7,395.8 470.5,394.5 C471.3,393.2 472.1,392.4 473,392 C473.9,391.6 474.9,391.9 476,391.8 C477.1,391.7 478.2,392 479.3,391.5 C480.4,391 481.4,389.8 482.5,389 C483.6,388.2 484.3,388 485.6,386.5 C486.9,385 489,382.4 490.3,380.2 C491.6,378 492.2,376.4 493.5,373.1 C494.8,369.8 496.9,363.9 498.2,360.5 C499.4,357.1 500.1,354.8 501,352.5 C501.9,350.2 502.8,348.4 503.9,346.6 C505,344.8 506.2,343.6 507.5,341.5 C508.8,339.4 510.3,336.1 511.9,334.2 C513.5,332.3 515.3,331.5 517,329.9 C518.7,328.3 520.5,326.2 522.1,324.7 C523.7,323.2 524.9,322.4 526.5,320.8 C528.1,319.2 529.9,317.2 531.6,315.3 C533.3,313.4 535.1,311.1 536.7,309.4 C538.3,307.7 539.6,306.7 541.1,305 C542.6,303.3 544.2,301.1 545.5,299.2 C546.8,297.3 547.9,295.3 549.1,293.4 C550.3,291.4 551.6,289.6 552.8,287.5 C554,285.4 555.4,282.8 556.4,281 C557.4,279.2 558.2,277.2 558.6,276.5" fill="none" stroke="#1414d2" stroke-width="2.8" stroke-linejoin="round" stroke-linecap="round" stroke-dasharray="0 6.6"/>
<path d="M416.1,470 C416.3,468.6 416.6,464.1 417.1,461.3 C417.7,458.5 418.6,456 419.4,453.4 C420.1,450.8 421,447.8 421.6,445.5 C422.2,443.2 422.8,441.9 423.3,439.5 C423.8,437.1 424.2,434.1 424.7,431 C425.1,427.9 425.6,424.5 426,421 C426.4,417.5 426.7,413.6 427.1,410 C427.5,406.4 427.8,402.8 428.2,399.1 C428.6,395.4 428.9,391.6 429.3,388 C429.7,384.4 430.1,380.5 430.4,377.3 C430.7,374.1 430.9,371.4 431.2,369 C431.5,366.6 431.6,364.5 432,363.1 C432.4,361.7 433,360.7 433.4,360.4 C433.8,360.1 434.2,360.9 434.5,361.5 C434.8,362.1 435,362.9 435.3,364.2 C435.6,365.5 435.8,367.3 436.1,369.5 C436.4,371.7 436.6,374.8 436.9,377.3 C437.2,379.8 437.5,382.1 437.8,384.5 C438.1,386.9 438.3,389.2 438.6,391.5 C438.9,393.8 439.1,396 439.4,398.2 C439.7,400.4 439.9,402.4 440.2,404.6 C440.5,406.8 440.9,409.3 441.3,411.5 C441.7,413.7 442,415.9 442.4,417.7 C442.8,419.5 443.2,421.1 443.7,422.5 C444.1,423.9 444.3,425.1 445.1,426.4 C445.9,427.7 447.3,429.6 448.4,430.2 C449.5,430.8 450.6,430.1 451.5,429.8 C452.4,429.5 452.6,429.4 454.1,428.2 C455.6,427 458.6,425.1 460.4,422.7 C462.2,420.3 464,416.4 465.1,414 C466.2,411.6 466.5,410.1 467.2,408 C467.9,405.9 468.5,403.5 469.1,401.4 C469.7,399.3 470,397.2 470.6,395.5 C471.2,393.8 472.2,392.2 473,390.9 C473.8,389.6 474.6,387.9 475.5,387.9 C476.4,387.9 477.3,389.9 478.5,390.9 C479.7,391.9 481.2,393.6 482.7,394 C484.2,394.4 486.1,393.6 487.6,393.4 C489.1,393.2 490.8,393.4 491.8,392.8 C492.8,392.2 493.1,391.8 493.7,389.7 C494.3,387.6 494.8,383 495.5,380 C496.2,377 497,374.4 497.9,371.5 C498.8,368.6 499.8,365.4 500.9,362.4 C502,359.4 503.2,356.8 504.6,353.3 C506,349.8 507.7,344.6 509.4,341.2 C511.1,337.8 512.9,334.6 514.8,332.8 C516.7,331 518.5,331.6 520.7,330.6 C522.9,329.6 525.8,328.4 528,326.9 C530.2,325.4 531.6,324 533.8,321.8 C536,319.6 538.7,316.4 541.1,313.8 C543.5,311.2 546.2,308.8 548.4,306.5 C550.6,304.2 552.2,302.6 554.2,299.9 C556.2,297.2 558.6,293 560.1,290.4 C561.6,287.8 562.2,286.3 563.2,284 C564.2,281.7 565.8,277.8 566.3,276.5" fill="none" stroke="#000" stroke-width="2.7" stroke-linejoin="round" stroke-linecap="round"/>
<path d="M414.2,461 C414.6,460.3 415.6,458.6 416.5,457 C417.4,455.4 418.5,453.8 419.5,451.5 C420.5,449.2 421.4,446.2 422.3,443.5 C423.2,440.8 424.3,437.3 424.9,435.2 C425.5,433.1 425.6,433.2 426,430.8 C426.4,428.4 427.2,423.6 427.6,421 C428,418.4 428.2,416.7 428.5,415 C428.8,413.3 429,413.1 429.3,411 C429.6,408.9 430.1,405.4 430.4,402.4 C430.7,399.4 430.8,395.5 431,393 C431.2,390.5 431.6,388.4 431.9,387.3 C432.2,386.2 432.3,386.5 433,386.4 C433.7,386.2 435.3,386 436,386.4 C436.7,386.8 436.9,386.9 437.3,388.5 C437.7,390.1 438.2,393.2 438.6,395.9 C439,398.6 439.4,401.7 439.7,404.6 C440,407.5 440.2,410.6 440.7,413.3 C441.1,416 441.7,418.6 442.4,421 C443.1,423.4 444,426.6 445.1,427.5 C446.2,428.4 447.9,426.8 448.9,426.4 C449.9,426 449.5,426 450.9,425 C452.3,424 455.2,422.4 457.2,420.3 C459.2,418.2 461.1,415.3 462.8,412.4 C464.5,409.5 466.2,405.8 467.5,403 C468.8,400.2 469.5,397.3 470.3,395.5 C471.1,393.7 471.2,393 472.2,392 C473.2,391 474.7,389.7 476.1,389.6 C477.6,389.5 479.3,391.6 480.9,391.2 C482.5,390.8 484,388.9 485.6,387.2 C487.2,385.5 488.7,383.2 490.3,380.9 C491.9,378.5 493.6,375.4 495,373.1 C496.4,370.8 497.4,369.2 498.5,367 C499.6,364.8 500.5,362.8 501.8,360 C503.1,357.2 504.7,353.6 506.1,350.3 C507.5,347 508.9,342.7 510.4,340 C511.8,337.3 513.1,335.4 514.8,334 C516.5,332.6 518.5,332.4 520.7,331.3 C522.9,330.2 525.8,329 528,327.5 C530.2,326 531.6,324.4 533.8,322.2 C536,320 538.7,316.8 541.1,314.2 C543.5,311.6 546.2,309 548.4,306.7 C550.6,304.4 552.2,302.9 554.2,300.2 C556.2,297.5 558.6,293.3 560.1,290.6 C561.6,287.9 562.2,286.4 563.2,284 C564.2,281.6 565.8,277.8 566.3,276.5" fill="none" stroke="#e0161b" stroke-width="3.2" stroke-linejoin="round" stroke-dasharray="6.5 3 1.6 3"/>
</g>
<line x1="418.7" y1="365.2" x2="418.7" y2="422" stroke="#8c8c8c" stroke-width="2.4" />
<path d="M415.7,421.8 L418.7,431.9 L421.7,421.8 Z" fill="#8c8c8c"/>
<rect x="534.5" y="338.4" width="126.89999999999998" height="93.40000000000003" fill="#fff"/>
<clipPath id="clipi"><rect x="534.5" y="338.4" width="126.89999999999998" height="93.40000000000003"/></clipPath>
<rect x="534.5" y="338.4" width="126.9" height="93.4" fill="none" stroke="#5a5a5a" stroke-width="1.1"/>
<line x1="551.4" y1="431.8" x2="551.4" y2="428.8" stroke="#5a5a5a" stroke-width="1" />
<line x1="551.4" y1="338.4" x2="551.4" y2="341.4" stroke="#5a5a5a" stroke-width="1" />
<line x1="606.4" y1="431.8" x2="606.4" y2="428.8" stroke="#5a5a5a" stroke-width="1" />
<line x1="606.4" y1="338.4" x2="606.4" y2="341.4" stroke="#5a5a5a" stroke-width="1" />
<line x1="534.5" y1="361" x2="537.5" y2="361" stroke="#5a5a5a" stroke-width="1" />
<line x1="661.4" y1="361" x2="658.4" y2="361" stroke="#5a5a5a" stroke-width="1" />
<line x1="534.5" y1="408.3" x2="537.5" y2="408.3" stroke="#5a5a5a" stroke-width="1" />
<line x1="661.4" y1="408.3" x2="658.4" y2="408.3" stroke="#5a5a5a" stroke-width="1" />
<text font-family="Liberation Sans, sans-serif" x="550.9" y="446.8" font-size="14.5" fill="#1a1a1a" text-anchor="middle" textLength="22" lengthAdjust="spacingAndGlyphs" >0.6</text>
<text font-family="Liberation Sans, sans-serif" x="661.4" y="446.8" font-size="14.5" fill="#1a1a1a" text-anchor="middle" textLength="21" lengthAdjust="spacingAndGlyphs" >0.8</text>
<text font-family="Liberation Sans, sans-serif" x="607.2" y="460.8" font-size="15" fill="#1a1a1a" text-anchor="middle" textLength="85" lengthAdjust="spacingAndGlyphs" >Energy (eV)</text>
<text font-family="Liberation Sans, sans-serif" x="525.8" y="385.5" font-size="15" fill="#1a1a1a" text-anchor="middle" textLength="69" lengthAdjust="spacingAndGlyphs" transform="rotate(-90 525.8 385.5)" >Abs (a.u.)</text>
<g clip-path="url(#clipi)">
<path d="M533,427 C533.2,426.8 533.3,426.6 534.5,425.8 C535.7,425.1 538.2,423.7 540,422.5 C541.8,421.3 543.5,420.1 545,418.8 C546.5,417.5 547.8,416.2 549,414.8 C550.2,413.4 551.1,412.1 552,410.6 C552.9,409.1 553.7,407.8 554.5,406 C555.3,404.2 556,402.5 556.7,400.1 C557.5,397.7 558.2,394.6 559,391.5 C559.8,388.4 560.6,384.7 561.4,381.4 C562.2,378.1 563,374.6 563.8,371.5 C564.6,368.4 565.4,365.1 566.1,362.7 C566.8,360.3 567.4,358.7 568,357.3 C568.6,355.9 569,355.3 569.6,354.5 C570.2,353.7 571.2,352.9 571.9,352.7 C572.6,352.5 573.2,352.9 573.8,353.2 C574.4,353.5 574.7,353.5 575.4,354.5 C576.1,355.5 577,357.2 577.8,359 C578.6,360.8 579.3,362.8 580.1,365 C580.9,367.2 581.7,369.7 582.5,372 C583.3,374.3 584,376.7 584.8,379 C585.6,381.3 586.5,383.9 587.5,386 C588.5,388.1 589.6,390.3 590.6,391.9 C591.6,393.5 592.5,394.6 593.5,395.6 C594.5,396.7 594.7,397.1 596.4,398.2 C598.1,399.3 600.8,401 603.5,402 C606.2,403 608.9,404 612.8,404.3 C616.7,404.6 622.1,404.3 626.8,403.6 C631.5,402.9 636.9,401.7 640.8,400.1 C644.7,398.6 647.7,396.1 650.2,394.3 C652.7,392.5 653.9,391.5 656,389.2 C658.1,386.9 661.8,381.9 663,380.5" fill="none" stroke="#000" stroke-width="2.6" stroke-linejoin="round" stroke-linecap="round"/>
<path d="M533,427 C533.2,426.8 532.5,426.8 534.5,425.8 C536.5,424.8 542.4,422.7 545,421.1 C547.6,419.6 548.4,418.4 550,416.5 C551.6,414.6 552.9,412.5 554.4,409.4 C555.9,406.3 557.7,401.5 559.1,397.8 C560.5,394.1 561.4,390.3 562.6,387.2 C563.8,384.1 565,380.7 566.1,379 C567.2,377.3 568,377.4 569,377 C570,376.6 570.4,376.7 571.9,376.3 C573.4,375.9 576.4,374.9 577.8,374.9 C579.2,374.9 579.5,375.5 580.3,376.2 C581.1,376.9 581.3,377.1 582.4,379.1 C583.5,381.1 585.3,385.5 587.1,388.4 C588.9,391.3 590.6,394.5 593,396.6 C595.4,398.8 598.3,400.1 601.2,401.3 C604.1,402.5 606.6,403.6 610.5,403.6 C614.4,403.6 619.5,402.7 624.5,401.3 C629.5,399.9 636.2,397.4 640.8,395.4 C645.4,393.3 648.3,391.8 652,389 C655.7,386.2 661.2,380.2 663,378.5" fill="none" stroke="#1d8a1d" stroke-width="2.6" stroke-linejoin="round" stroke-dasharray="9 4"/>
<path d="M533,427 C533.2,426.8 532.5,426.6 534.5,425.8 C536.5,425 541.3,423.9 545,422.3 C548.7,420.7 553.2,418.7 556.7,416.4 C560.2,414.1 563.4,410.4 566.1,408.3 C568.8,406.2 571.2,404.5 573.1,403.6 C575,402.7 575.8,402.7 577.8,402.9 C579.8,403.1 582.8,404.1 584.8,404.8 C586.8,405.5 588.1,406.5 590,407 C591.9,407.5 594.4,407.8 596.4,407.8 C598.4,407.8 600,407.3 602,406.8 C604,406.3 604.7,405.7 608.1,404.8 C611.5,403.9 616.8,403.1 622.2,401.3 C627.7,399.6 635.8,396.3 640.8,394.3 C645.8,392.3 648.3,391.4 652,389.5 C655.7,387.6 661.2,384.2 663,383.2" fill="none" stroke="#1414d2" stroke-width="2.6" stroke-linejoin="round" stroke-dasharray="5.5 3.5"/>
</g>
<line x1="576.1" y1="401.8" x2="576.1" y2="385" stroke="#8c8c8c" stroke-width="1.9" />
<path d="M572.9,386 L576.1,377.5 L579.3,386 Z" fill="#8c8c8c"/>
<defs>
<filter id="grain" x="0" y="0" width="100%" height="100%" color-interpolation-filters="sRGB">
 <feTurbulence type="fractalNoise" baseFrequency="0.7" numOctaves="2" seed="7"/>
 <feColorMatrix type="matrix" values="3 0 0 0 -1  3 0 0 0 -1  3 0 0 0 -1  0 0 0 0 0.4"/>
</filter>
<filter id="grain2" x="0" y="0" width="100%" height="100%" color-interpolation-filters="sRGB">
 <feTurbulence type="fractalNoise" baseFrequency="0.75" numOctaves="2" seed="11"/>
 <feColorMatrix type="matrix" values="3 0 0 0 -1  3 0 0 0 -1  3 0 0 0 -1  0 0 0 0 0.36"/>
</filter>
<filter id="grain3" x="0" y="0" width="100%" height="100%" color-interpolation-filters="sRGB">
 <feTurbulence type="fractalNoise" baseFrequency="0.45 0.85" numOctaves="2" seed="21"/>
 <feColorMatrix type="matrix" values="3.2 0 0 0 -1.1  3.2 0 0 0 -1.1  3.2 0 0 0 -1.1  0 0 0 0 0.45"/>
</filter>
<filter id="soft" x="-50%" y="-50%" width="200%" height="200%"><feGaussianBlur stdDeviation="3.3"/></filter>
<filter id="soft1" x="-50%" y="-50%" width="200%" height="200%"><feGaussianBlur stdDeviation="2.3"/></filter>
<filter id="soft2" x="-50%" y="-50%" width="200%" height="200%"><feGaussianBlur stdDeviation="6"/></filter>
</defs>
<line x1="65.5" y1="587" x2="65.5" y2="778.3" stroke="#5a5a5a" stroke-width="1.1" />
<line x1="65.5" y1="778.3" x2="331.5" y2="778.3" stroke="#5a5a5a" stroke-width="1.1" />
<line x1="65.5" y1="778.3" x2="69.5" y2="778.3" stroke="#5a5a5a" stroke-width="1" />
<line x1="65.5" y1="770.8" x2="67.7" y2="770.8" stroke="#5a5a5a" stroke-width="0.9" />
<line x1="65.5" y1="766.4" x2="67.7" y2="766.4" stroke="#5a5a5a" stroke-width="0.9" />
<line x1="65.5" y1="763.2" x2="67.7" y2="763.2" stroke="#5a5a5a" stroke-width="0.9" />
<line x1="65.5" y1="760.8" x2="67.7" y2="760.8" stroke="#5a5a5a" stroke-width="0.9" />
<line x1="65.5" y1="758.8" x2="67.7" y2="758.8" stroke="#5a5a5a" stroke-width="0.9" />
<line x1="65.5" y1="757.2" x2="67.7" y2="757.2" stroke="#5a5a5a" stroke-width="0.9" />
<line x1="65.5" y1="755.7" x2="67.7" y2="755.7" stroke="#5a5a5a" stroke-width="0.9" />
<line x1="65.5" y1="754.4" x2="67.7" y2="754.4" stroke="#5a5a5a" stroke-width="0.9" />
<line x1="65.5" y1="753.3" x2="69.5" y2="753.3" stroke="#5a5a5a" stroke-width="1" />
<line x1="65.5" y1="745.8" x2="67.7" y2="745.8" stroke="#5a5a5a" stroke-width="0.9" />
<line x1="65.5" y1="741.4" x2="67.7" y2="741.4" stroke="#5a5a5a" stroke-width="0.9" />
<line x1="65.5" y1="738.2" x2="67.7" y2="738.2" stroke="#5a5a5a" stroke-width="0.9" />
<line x1="65.5" y1="735.8" x2="67.7" y2="735.8" stroke="#5a5a5a" stroke-width="0.9" />
<line x1="65.5" y1="733.8" x2="67.7" y2="733.8" stroke="#5a5a5a" stroke-width="0.9" />
<line x1="65.5" y1="732.2" x2="67.7" y2="732.2" stroke="#5a5a5a" stroke-width="0.9" />
<line x1="65.5" y1="730.7" x2="67.7" y2="730.7" stroke="#5a5a5a" stroke-width="0.9" />
<line x1="65.5" y1="729.4" x2="67.7" y2="729.4" stroke="#5a5a5a" stroke-width="0.9" />
<line x1="65.5" y1="728.3" x2="69.5" y2="728.3" stroke="#5a5a5a" stroke-width="1" />
<line x1="65.5" y1="720.8" x2="67.7" y2="720.8" stroke="#5a5a5a" stroke-width="0.9" />
<line x1="65.5" y1="716.4" x2="67.7" y2="716.4" stroke="#5a5a5a" stroke-width="0.9" />
<line x1="65.5" y1="713.2" x2="67.7" y2="713.2" stroke="#5a5a5a" stroke-width="0.9" />
<line x1="65.5" y1="710.8" x2="67.7" y2="710.8" stroke="#5a5a5a" stroke-width="0.9" />
<line x1="65.5" y1="708.8" x2="67.7" y2="708.8" stroke="#5a5a5a" stroke-width="0.9" />
<line x1="65.5" y1="707.2" x2="67.7" y2="707.2" stroke="#5a5a5a" stroke-width="0.9" />
<line x1="65.5" y1="705.7" x2="67.7" y2="705.7" stroke="#5a5a5a" stroke-width="0.9" />
<line x1="65.5" y1="704.4" x2="67.7" y2="704.4" stroke="#5a5a5a" stroke-width="0.9" />
<line x1="65.5" y1="703.3" x2="69.5" y2="703.3" stroke="#5a5a5a" stroke-width="1" />
<line x1="65.5" y1="695.8" x2="67.7" y2="695.8" stroke="#5a5a5a" stroke-width="0.9" />
<line x1="65.5" y1="691.4" x2="67.7" y2="691.4" stroke="#5a5a5a" stroke-width="0.9" />
<line x1="65.5" y1="688.2" x2="67.7" y2="688.2" stroke="#5a5a5a" stroke-width="0.9" />
<line x1="65.5" y1="685.8" x2="67.7" y2="685.8" stroke="#5a5a5a" stroke-width="0.9" />
<line x1="65.5" y1="683.8" x2="67.7" y2="683.8" stroke="#5a5a5a" stroke-width="0.9" />
<line x1="65.5" y1="682.2" x2="67.7" y2="682.2" stroke="#5a5a5a" stroke-width="0.9" />
<line x1="65.5" y1="680.7" x2="67.7" y2="680.7" stroke="#5a5a5a" stroke-width="0.9" />
<line x1="65.5" y1="679.4" x2="67.7" y2="679.4" stroke="#5a5a5a" stroke-width="0.9" />
<line x1="65.5" y1="678.3" x2="69.5" y2="678.3" stroke="#5a5a5a" stroke-width="1" />
<line x1="65.5" y1="670.8" x2="67.7" y2="670.8" stroke="#5a5a5a" stroke-width="0.9" />
<line x1="65.5" y1="666.4" x2="67.7" y2="666.4" stroke="#5a5a5a" stroke-width="0.9" />
<line x1="65.5" y1="663.2" x2="67.7" y2="663.2" stroke="#5a5a5a" stroke-width="0.9" />
<line x1="65.5" y1="660.8" x2="67.7" y2="660.8" stroke="#5a5a5a" stroke-width="0.9" />
<line x1="65.5" y1="658.8" x2="67.7" y2="658.8" stroke="#5a5a5a" stroke-width="0.9" />
<line x1="65.5" y1="657.2" x2="67.7" y2="657.2" stroke="#5a5a5a" stroke-width="0.9" />
<line x1="65.5" y1="655.7" x2="67.7" y2="655.7" stroke="#5a5a5a" stroke-width="0.9" />
<line x1="65.5" y1="654.4" x2="67.7" y2="654.4" stroke="#5a5a5a" stroke-width="0.9" />
<line x1="65.5" y1="653.3" x2="69.5" y2="653.3" stroke="#5a5a5a" stroke-width="1" />
<line x1="65.5" y1="645.8" x2="67.7" y2="645.8" stroke="#5a5a5a" stroke-width="0.9" />
<line x1="65.5" y1="641.4" x2="67.7" y2="641.4" stroke="#5a5a5a" stroke-width="0.9" />
<line x1="65.5" y1="638.2" x2="67.7" y2="638.2" stroke="#5a5a5a" stroke-width="0.9" />
<line x1="65.5" y1="635.8" x2="67.7" y2="635.8" stroke="#5a5a5a" stroke-width="0.9" />
<line x1="65.5" y1="633.8" x2="67.7" y2="633.8" stroke="#5a5a5a" stroke-width="0.9" />
<line x1="65.5" y1="632.2" x2="67.7" y2="632.2" stroke="#5a5a5a" stroke-width="0.9" />
<line x1="65.5" y1="630.7" x2="67.7" y2="630.7" stroke="#5a5a5a" stroke-width="0.9" />
<line x1="65.5" y1="629.4" x2="67.7" y2="629.4" stroke="#5a5a5a" stroke-width="0.9" />
<line x1="65.5" y1="628.3" x2="69.5" y2="628.3" stroke="#5a5a5a" stroke-width="1" />
<line x1="65.5" y1="620.8" x2="67.7" y2="620.8" stroke="#5a5a5a" stroke-width="0.9" />
<line x1="65.5" y1="616.4" x2="67.7" y2="616.4" stroke="#5a5a5a" stroke-width="0.9" />
<line x1="65.5" y1="613.2" x2="67.7" y2="613.2" stroke="#5a5a5a" stroke-width="0.9" />
<line x1="65.5" y1="610.8" x2="67.7" y2="610.8" stroke="#5a5a5a" stroke-width="0.9" />
<line x1="65.5" y1="608.8" x2="67.7" y2="608.8" stroke="#5a5a5a" stroke-width="0.9" />
<line x1="65.5" y1="607.2" x2="67.7" y2="607.2" stroke="#5a5a5a" stroke-width="0.9" />
<line x1="65.5" y1="605.7" x2="67.7" y2="605.7" stroke="#5a5a5a" stroke-width="0.9" />
<line x1="65.5" y1="604.4" x2="67.7" y2="604.4" stroke="#5a5a5a" stroke-width="0.9" />
<line x1="65.5" y1="603.3" x2="69.5" y2="603.3" stroke="#5a5a5a" stroke-width="1" />
<line x1="65.5" y1="595.8" x2="67.7" y2="595.8" stroke="#5a5a5a" stroke-width="0.9" />
<line x1="65.5" y1="591.4" x2="67.7" y2="591.4" stroke="#5a5a5a" stroke-width="0.9" />
<line x1="65.5" y1="588.2" x2="67.7" y2="588.2" stroke="#5a5a5a" stroke-width="0.9" />
<line x1="65.3" y1="778.3" x2="65.3" y2="774.8" stroke="#5a5a5a" stroke-width="1" />
<line x1="91.9" y1="778.3" x2="91.9" y2="774.8" stroke="#5a5a5a" stroke-width="1" />
<line x1="118.5" y1="778.3" x2="118.5" y2="774.8" stroke="#5a5a5a" stroke-width="1" />
<line x1="145.1" y1="778.3" x2="145.1" y2="774.8" stroke="#5a5a5a" stroke-width="1" />
<line x1="171.7" y1="778.3" x2="171.7" y2="774.8" stroke="#5a5a5a" stroke-width="1" />
<line x1="198.3" y1="778.3" x2="198.3" y2="774.8" stroke="#5a5a5a" stroke-width="1" />
<line x1="224.9" y1="778.3" x2="224.9" y2="774.8" stroke="#5a5a5a" stroke-width="1" />
<line x1="251.5" y1="778.3" x2="251.5" y2="774.8" stroke="#5a5a5a" stroke-width="1" />
<line x1="278.1" y1="778.3" x2="278.1" y2="774.8" stroke="#5a5a5a" stroke-width="1" />
<line x1="304.7" y1="778.3" x2="304.7" y2="774.8" stroke="#5a5a5a" stroke-width="1" />
<line x1="331.3" y1="778.3" x2="331.3" y2="774.8" stroke="#5a5a5a" stroke-width="1" />
<text font-family="Liberation Sans, sans-serif" x="89.5" y="793.3" font-size="14" fill="#1a1a1a" text-anchor="middle" >-4</text>
<text font-family="Liberation Sans, sans-serif" x="142.7" y="793.3" font-size="14" fill="#1a1a1a" text-anchor="middle" >-2</text>
<text font-family="Liberation Sans, sans-serif" x="198.3" y="793.3" font-size="14" fill="#1a1a1a" text-anchor="middle" >0</text>
<text font-family="Liberation Sans, sans-serif" x="251.5" y="793.3" font-size="14" fill="#1a1a1a" text-anchor="middle" >2</text>
<text font-family="Liberation Sans, sans-serif" x="304.7" y="793.3" font-size="14" fill="#1a1a1a" text-anchor="middle" >4</text>
<text font-family="Liberation Sans, sans-serif" x="62.6" y="633.6" font-size="14" fill="#1a1a1a" text-anchor="end">10<tspan font-size="10" dy="-6.5">-8</tspan></text>
<text font-family="Liberation Sans, sans-serif" x="62.6" y="683.6" font-size="14" fill="#1a1a1a" text-anchor="end">10<tspan font-size="10" dy="-6.5">-10</tspan></text>
<text font-family="Liberation Sans, sans-serif" x="62.6" y="733.6" font-size="14" fill="#1a1a1a" text-anchor="end">10<tspan font-size="10" dy="-6.5">-12</tspan></text>
<text font-family="Liberation Sans, sans-serif" x="62.6" y="783.6" font-size="14" fill="#1a1a1a" text-anchor="end">10<tspan font-size="10" dy="-6.5">-14</tspan></text>
<text font-family="Liberation Sans, sans-serif" x="20.3" y="689.2" font-size="15" fill="#1a1a1a" text-anchor="middle" textLength="76.5" lengthAdjust="spacingAndGlyphs" transform="rotate(-90 20.3 689.2)" >Current (A)</text>
<text font-family="Liberation Sans, sans-serif" x="198.5" y="819" font-size="15" fill="#1a1a1a" text-anchor="middle" textLength="76.2" lengthAdjust="spacingAndGlyphs" >Voltage (V)</text>
<clipPath id="tem1"><rect x="85.1" y="548" width="96.6" height="83.9"/></clipPath>
<g clip-path="url(#tem1)">
<rect x="85.1" y="548" width="96.6" height="83.9" fill="#878787"/>
<g filter="url(#soft1)">
<circle cx="95" cy="572" r="11" fill="#4a4a4a"/>
<circle cx="88" cy="560" r="7" fill="#505050"/>
<circle cx="113.6" cy="554" r="11" fill="#454545"/>
<circle cx="132.6" cy="576.2" r="12" fill="#3e3e3e"/>
<circle cx="154" cy="555.4" r="11" fill="#444"/>
<circle cx="174" cy="582" r="10" fill="#484848"/>
<circle cx="109.8" cy="606.6" r="14" fill="#3a3a3a"/>
<circle cx="151.6" cy="614.2" r="13" fill="#2e2e2e"/>
<circle cx="88" cy="600" r="5" fill="#555"/>
<circle cx="140" cy="598" r="7" fill="#a2a2a2"/>
<circle cx="178" cy="622" r="6" fill="#a8a8a8"/>
<circle cx="132" cy="550" r="5" fill="#a0a0a0"/>
<circle cx="95" cy="628" r="5" fill="#a0a0a0"/>
</g>
<rect x="85.1" y="548" width="96.6" height="83.9" filter="url(#grain)"/>
</g>
<clipPath id="tem2"><rect x="220.1" y="548.4" width="98.9" height="85.6"/></clipPath>
<g clip-path="url(#tem2)">
<rect x="220.1" y="548.4" width="98.9" height="85.6" fill="#7a7a7a"/>
<g filter="url(#soft)">
<circle cx="244" cy="565" r="12" fill="#000"/>
<circle cx="250" cy="572" r="9" fill="#080808"/>
<circle cx="232" cy="558" r="7" fill="#202020"/>
<circle cx="285" cy="553.6" r="9" fill="#0c0c0c"/>
<circle cx="307" cy="584" r="11" fill="#101010"/>
<circle cx="234" cy="591.5" r="8" fill="#1a1a1a"/>
<circle cx="246" cy="600" r="8" fill="#141414"/>
<circle cx="256" cy="609" r="9" fill="#101010"/>
<circle cx="263" cy="623" r="9" fill="#141414"/>
<circle cx="279" cy="596" r="8" fill="#282828"/>
<circle cx="221" cy="584" r="6" fill="#2a2a2a"/>
<circle cx="292" cy="592" r="6" fill="#303030"/>
<circle cx="229" cy="613" r="10" fill="#f0f0f0"/>
<circle cx="268" cy="577" r="9" fill="#dcdcdc"/>
<circle cx="291" cy="572" r="7" fill="#d8d8d8"/>
<circle cx="304" cy="608" r="11" fill="#ececec"/>
<circle cx="310" cy="565" r="6" fill="#dcdcdc"/>
<circle cx="277" cy="625" r="7" fill="#e4e4e4"/>
<circle cx="225" cy="630" r="6" fill="#e0e0e0"/>
<circle cx="268" cy="553" r="6" fill="#c8c8c8"/>
<circle cx="233" cy="578" r="5" fill="#c0c0c0"/>
</g>
<rect x="220.1" y="548.4" width="98.9" height="85.6" filter="url(#grain2)"/>
</g>
<path d="M191.4,582.4 L202.8,582.4 L202.8,568.4 L213,595.7 L202.8,623 L202.8,609 L191.4,609 Z" fill="#4f7fc3"/>
<path d="M65.7,705 L68.2,710.5 L72.3,715.6 L75,717.8 L78.4,719.7 L81.5,722.5 L84.5,725.8 L87.5,728 L90.7,730.9 L93.7,730.9 L95.5,730 L97.8,741.2 L100,738.5 L101.9,739.1 L104,741.5 L106,743.2 L108.5,747 L110.7,750.4 L113.1,743.2 L115.6,762.6 L117.5,752 L119.3,746.3 L122,740 L125.4,735 L127.5,737 L129.5,739.1 L132,735.5 L134.6,733 L137,731.5 L139.7,729.9 L143.8,730.9 L147,728.5 L149.9,727.9 L153,729.5 L156.1,729.9 L159,728.5 L162.2,727.9 L166.3,725.8 L169.5,726.5 L172.4,725.8 L175.5,725 L178.5,724.4 L182.6,722.2 L184.3,728.3 L186.5,723.8 L190,723 L194.9,722.8 L198.1,725.8 L201,723.5 L203.2,722.8 L207,724.5 L211.3,723.8 L214,722 L217.5,721.7 L221,723.5 L225.7,722.8 L229.7,721.3 L232.4,721.5 L235.2,721.7 L237.9,721.8 L240.6,722.1 L243.4,721.4 L246.1,720.7 L249,721.7 L251.9,719.3 L254.8,720.4 L257.8,721.5 L260.7,720.7 L263.6,721.2 L266.5,720.1 L269.4,719 L272.4,719.9 L275.3,719.3 L278.2,720 L281.1,720 L284.1,718.5 L287,719.7 L289.9,718.8 L292.8,718.7 L295.7,720.2 L298.7,719.6 L301.6,717.8 L304.5,719.3 L307.4,718.3 L310,717.3 L312.6,718.5 L315.3,717.1 L317.9,716.7 L320.5,718.9 L323.1,717.1 L325.8,717.1 L328.4,719 L331,717.7" fill="none" stroke="#000" stroke-width="2.7" stroke-linejoin="round" stroke-linecap="round"/>
<path d="M65.7,656.8 C68.2,657.2 74.5,658.4 80.4,659.4 C86.3,660.4 94.1,661.5 100.9,662.6 C107.7,663.7 114.5,664.5 121.3,666 C128.1,667.5 136.6,669.7 141.7,671.3 C146.8,672.9 148.9,674.3 152,675.5 C155.1,676.7 157.6,677.5 160,678.7 C162.4,679.9 164.9,681.4 166.7,682.7 C168.4,684 169.4,685.1 170.5,686.3 C171.6,687.5 172.5,688.8 173.3,690 C174.1,691.2 174.6,692.2 175.2,693.5 C175.8,694.8 176.3,696.3 176.7,698 C177.1,699.7 177.5,701.5 177.8,703.5 C178.1,705.5 178.4,707.4 178.7,710 C178.9,712.6 179,718.6 179.3,719.3 C179.6,720 179.9,716 180.3,714 C180.8,712 181.5,709.5 182,707.3 C182.5,705 182.9,702.5 183.5,700.5 C184.1,698.5 184.4,697 185.3,695.3 C186.2,693.5 187.4,691.8 188.7,690 C190,688.2 192,686 193.3,684.7 C194.6,683.4 195.2,683 196.5,682.2 C197.8,681.4 199,681 201.1,679.9 C203.2,678.8 205.2,677.3 209.3,675.8 C213.4,674.3 219.6,672.2 225.7,670.7 C231.8,669.2 239.3,667.8 246.1,666.6 C252.9,665.4 259.7,664.4 266.5,663.5 C273.3,662.6 280.2,661.8 287,661.1 C293.8,660.4 300.1,660 307.4,659.4 C314.7,658.8 327.1,658.1 331,657.8" fill="none" stroke="#e0161b" stroke-width="2.7" stroke-linejoin="round" stroke-linecap="round"/>
<text font-family="Liberation Sans, sans-serif" x="285" y="681.4" font-size="14.5" fill="#e0161b" textLength="29.5" lengthAdjust="spacingAndGlyphs" >EDT</text>
<text font-family="Liberation Sans, sans-serif" x="242" y="742.8" font-size="14.5" fill="#1a1a1a" textLength="66.5" lengthAdjust="spacingAndGlyphs" >Oleic acid</text>
<line x1="411.3" y1="587" x2="411.3" y2="778.3" stroke="#5a5a5a" stroke-width="1.1" />
<line x1="411.3" y1="778.3" x2="677.6" y2="778.3" stroke="#5a5a5a" stroke-width="1.1" />
<line x1="411.3" y1="778.3" x2="415.3" y2="778.3" stroke="#5a5a5a" stroke-width="1" />
<line x1="411.3" y1="770.8" x2="413.5" y2="770.8" stroke="#5a5a5a" stroke-width="0.9" />
<line x1="411.3" y1="766.4" x2="413.5" y2="766.4" stroke="#5a5a5a" stroke-width="0.9" />
<line x1="411.3" y1="763.2" x2="413.5" y2="763.2" stroke="#5a5a5a" stroke-width="0.9" />
<line x1="411.3" y1="760.8" x2="413.5" y2="760.8" stroke="#5a5a5a" stroke-width="0.9" />
<line x1="411.3" y1="758.8" x2="413.5" y2="758.8" stroke="#5a5a5a" stroke-width="0.9" />
<line x1="411.3" y1="757.2" x2="413.5" y2="757.2" stroke="#5a5a5a" stroke-width="0.9" />
<line x1="411.3" y1="755.7" x2="413.5" y2="755.7" stroke="#5a5a5a" stroke-width="0.9" />
<line x1="411.3" y1="754.4" x2="413.5" y2="754.4" stroke="#5a5a5a" stroke-width="0.9" />
<line x1="411.3" y1="753.3" x2="415.3" y2="753.3" stroke="#5a5a5a" stroke-width="1" />
<line x1="411.3" y1="745.8" x2="413.5" y2="745.8" stroke="#5a5a5a" stroke-width="0.9" />
<line x1="411.3" y1="741.4" x2="413.5" y2="741.4" stroke="#5a5a5a" stroke-width="0.9" />
<line x1="411.3" y1="738.2" x2="413.5" y2="738.2" stroke="#5a5a5a" stroke-width="0.9" />
<line x1="411.3" y1="735.8" x2="413.5" y2="735.8" stroke="#5a5a5a" stroke-width="0.9" />
<line x1="411.3" y1="733.8" x2="413.5" y2="733.8" stroke="#5a5a5a" stroke-width="0.9" />
<line x1="411.3" y1="732.2" x2="413.5" y2="732.2" stroke="#5a5a5a" stroke-width="0.9" />
<line x1="411.3" y1="730.7" x2="413.5" y2="730.7" stroke="#5a5a5a" stroke-width="0.9" />
<line x1="411.3" y1="729.4" x2="413.5" y2="729.4" stroke="#5a5a5a" stroke-width="0.9" />
<line x1="411.3" y1="728.3" x2="415.3" y2="728.3" stroke="#5a5a5a" stroke-width="1" />
<line x1="411.3" y1="720.8" x2="413.5" y2="720.8" stroke="#5a5a5a" stroke-width="0.9" />
<line x1="411.3" y1="716.4" x2="413.5" y2="716.4" stroke="#5a5a5a" stroke-width="0.9" />
<line x1="411.3" y1="713.2" x2="413.5" y2="713.2" stroke="#5a5a5a" stroke-width="0.9" />
<line x1="411.3" y1="710.8" x2="413.5" y2="710.8" stroke="#5a5a5a" stroke-width="0.9" />
<line x1="411.3" y1="708.8" x2="413.5" y2="708.8" stroke="#5a5a5a" stroke-width="0.9" />
<line x1="411.3" y1="707.2" x2="413.5" y2="707.2" stroke="#5a5a5a" stroke-width="0.9" />
<line x1="411.3" y1="705.7" x2="413.5" y2="705.7" stroke="#5a5a5a" stroke-width="0.9" />
<line x1="411.3" y1="704.4" x2="413.5" y2="704.4" stroke="#5a5a5a" stroke-width="0.9" />
<line x1="411.3" y1="703.3" x2="415.3" y2="703.3" stroke="#5a5a5a" stroke-width="1" />
<line x1="411.3" y1="695.8" x2="413.5" y2="695.8" stroke="#5a5a5a" stroke-width="0.9" />
<line x1="411.3" y1="691.4" x2="413.5" y2="691.4" stroke="#5a5a5a" stroke-width="0.9" />
<line x1="411.3" y1="688.2" x2="413.5" y2="688.2" stroke="#5a5a5a" stroke-width="0.9" />
<line x1="411.3" y1="685.8" x2="413.5" y2="685.8" stroke="#5a5a5a" stroke-width="0.9" />
<line x1="411.3" y1="683.8" x2="413.5" y2="683.8" stroke="#5a5a5a" stroke-width="0.9" />
<line x1="411.3" y1="682.2" x2="413.5" y2="682.2" stroke="#5a5a5a" stroke-width="0.9" />
<line x1="411.3" y1="680.7" x2="413.5" y2="680.7" stroke="#5a5a5a" stroke-width="0.9" />
<line x1="411.3" y1="679.4" x2="413.5" y2="679.4" stroke="#5a5a5a" stroke-width="0.9" />
<line x1="411.3" y1="678.3" x2="415.3" y2="678.3" stroke="#5a5a5a" stroke-width="1" />
<line x1="411.3" y1="670.8" x2="413.5" y2="670.8" stroke="#5a5a5a" stroke-width="0.9" />
<line x1="411.3" y1="666.4" x2="413.5" y2="666.4" stroke="#5a5a5a" stroke-width="0.9" />
<line x1="411.3" y1="663.2" x2="413.5" y2="663.2" stroke="#5a5a5a" stroke-width="0.9" />
<line x1="411.3" y1="660.8" x2="413.5" y2="660.8" stroke="#5a5a5a" stroke-width="0.9" />
<line x1="411.3" y1="658.8" x2="413.5" y2="658.8" stroke="#5a5a5a" stroke-width="0.9" />
<line x1="411.3" y1="657.2" x2="413.5" y2="657.2" stroke="#5a5a5a" stroke-width="0.9" />
<line x1="411.3" y1="655.7" x2="413.5" y2="655.7" stroke="#5a5a5a" stroke-width="0.9" />
<line x1="411.3" y1="654.4" x2="413.5" y2="654.4" stroke="#5a5a5a" stroke-width="0.9" />
<line x1="411.3" y1="653.3" x2="415.3" y2="653.3" stroke="#5a5a5a" stroke-width="1" />
<line x1="411.3" y1="645.8" x2="413.5" y2="645.8" stroke="#5a5a5a" stroke-width="0.9" />
<line x1="411.3" y1="641.4" x2="413.5" y2="641.4" stroke="#5a5a5a" stroke-width="0.9" />
<line x1="411.3" y1="638.2" x2="413.5" y2="638.2" stroke="#5a5a5a" stroke-width="0.9" />
<line x1="411.3" y1="635.8" x2="413.5" y2="635.8" stroke="#5a5a5a" stroke-width="0.9" />
<line x1="411.3" y1="633.8" x2="413.5" y2="633.8" stroke="#5a5a5a" stroke-width="0.9" />
<line x1="411.3" y1="632.2" x2="413.5" y2="632.2" stroke="#5a5a5a" stroke-width="0.9" />
<line x1="411.3" y1="630.7" x2="413.5" y2="630.7" stroke="#5a5a5a" stroke-width="0.9" />
<line x1="411.3" y1="629.4" x2="413.5" y2="629.4" stroke="#5a5a5a" stroke-width="0.9" />
<line x1="411.3" y1="628.3" x2="415.3" y2="628.3" stroke="#5a5a5a" stroke-width="1" />
<line x1="411.3" y1="620.8" x2="413.5" y2="620.8" stroke="#5a5a5a" stroke-width="0.9" />
<line x1="411.3" y1="616.4" x2="413.5" y2="616.4" stroke="#5a5a5a" stroke-width="0.9" />
<line x1="411.3" y1="613.2" x2="413.5" y2="613.2" stroke="#5a5a5a" stroke-width="0.9" />
<line x1="411.3" y1="610.8" x2="413.5" y2="610.8" stroke="#5a5a5a" stroke-width="0.9" />
<line x1="411.3" y1="608.8" x2="413.5" y2="608.8" stroke="#5a5a5a" stroke-width="0.9" />
<line x1="411.3" y1="607.2" x2="413.5" y2="607.2" stroke="#5a5a5a" stroke-width="0.9" />
<line x1="411.3" y1="605.7" x2="413.5" y2="605.7" stroke="#5a5a5a" stroke-width="0.9" />
<line x1="411.3" y1="604.4" x2="413.5" y2="604.4" stroke="#5a5a5a" stroke-width="0.9" />
<line x1="411.3" y1="603.3" x2="415.3" y2="603.3" stroke="#5a5a5a" stroke-width="1" />
<line x1="411.3" y1="595.8" x2="413.5" y2="595.8" stroke="#5a5a5a" stroke-width="0.9" />
<line x1="411.3" y1="591.4" x2="413.5" y2="591.4" stroke="#5a5a5a" stroke-width="0.9" />
<line x1="411.3" y1="588.2" x2="413.5" y2="588.2" stroke="#5a5a5a" stroke-width="0.9" />
<line x1="410.3" y1="778.3" x2="410.3" y2="774.8" stroke="#5a5a5a" stroke-width="1" />
<line x1="437" y1="778.3" x2="437" y2="774.8" stroke="#5a5a5a" stroke-width="1" />
<line x1="463.7" y1="778.3" x2="463.7" y2="774.8" stroke="#5a5a5a" stroke-width="1" />
<line x1="490.4" y1="778.3" x2="490.4" y2="774.8" stroke="#5a5a5a" stroke-width="1" />
<line x1="517.1" y1="778.3" x2="517.1" y2="774.8" stroke="#5a5a5a" stroke-width="1" />
<line x1="543.8" y1="778.3" x2="543.8" y2="774.8" stroke="#5a5a5a" stroke-width="1" />
<line x1="570.5" y1="778.3" x2="570.5" y2="774.8" stroke="#5a5a5a" stroke-width="1" />
<line x1="597.2" y1="778.3" x2="597.2" y2="774.8" stroke="#5a5a5a" stroke-width="1" />
<line x1="623.9" y1="778.3" x2="623.9" y2="774.8" stroke="#5a5a5a" stroke-width="1" />
<line x1="650.6" y1="778.3" x2="650.6" y2="774.8" stroke="#5a5a5a" stroke-width="1" />
<line x1="677.3" y1="778.3" x2="677.3" y2="774.8" stroke="#5a5a5a" stroke-width="1" />
<text font-family="Liberation Sans, sans-serif" x="434.6" y="793.3" font-size="14" fill="#1a1a1a" text-anchor="middle" >-4</text>
<text font-family="Liberation Sans, sans-serif" x="488" y="793.3" font-size="14" fill="#1a1a1a" text-anchor="middle" >-2</text>
<text font-family="Liberation Sans, sans-serif" x="543.8" y="793.3" font-size="14" fill="#1a1a1a" text-anchor="middle" >0</text>
<text font-family="Liberation Sans, sans-serif" x="597.2" y="793.3" font-size="14" fill="#1a1a1a" text-anchor="middle" >2</text>
<text font-family="Liberation Sans, sans-serif" x="650.6" y="793.3" font-size="14" fill="#1a1a1a" text-anchor="middle" >4</text>
<text font-family="Liberation Sans, sans-serif" x="408.4" y="633.6" font-size="14" fill="#1a1a1a" text-anchor="end">10<tspan font-size="10" dy="-6.5">-8</tspan></text>
<text font-family="Liberation Sans, sans-serif" x="408.4" y="683.6" font-size="14" fill="#1a1a1a" text-anchor="end">10<tspan font-size="10" dy="-6.5">-10</tspan></text>
<text font-family="Liberation Sans, sans-serif" x="408.4" y="733.6" font-size="14" fill="#1a1a1a" text-anchor="end">10<tspan font-size="10" dy="-6.5">-12</tspan></text>
<text font-family="Liberation Sans, sans-serif" x="408.4" y="783.6" font-size="14" fill="#1a1a1a" text-anchor="end">10<tspan font-size="10" dy="-6.5">-14</tspan></text>
<text font-family="Liberation Sans, sans-serif" x="367.8" y="689.4" font-size="15" fill="#1a1a1a" text-anchor="middle" textLength="74.2" lengthAdjust="spacingAndGlyphs" transform="rotate(-90 367.8 689.4)" >Current (A)</text>
<text font-family="Liberation Sans, sans-serif" x="543.8" y="819" font-size="15" fill="#1a1a1a" text-anchor="middle" textLength="76.2" lengthAdjust="spacingAndGlyphs" >Voltage (V)</text>
<clipPath id="tem3"><rect x="481.4" y="536.9" width="95.8" height="83.1"/></clipPath>
<g clip-path="url(#tem3)">
<rect x="481.4" y="536.9" width="95.8" height="83.1" fill="#7e7e7e"/>
<g filter="url(#soft1)">
<circle cx="499.8" cy="554.8" r="13" fill="#333"/>
<circle cx="527.8" cy="548.5" r="10" fill="#3c3c3c"/>
<circle cx="562.9" cy="577.6" r="12" fill="#353535"/>
<circle cx="519" cy="581" r="11" fill="#3a3a3a"/>
<circle cx="547" cy="607.3" r="13" fill="#303030"/>
<circle cx="489.3" cy="607" r="10" fill="#3a3a3a"/>
<circle cx="572" cy="548" r="7" fill="#444"/>
<circle cx="540" cy="585" r="8" fill="#a0a0a0"/>
<circle cx="505" cy="595" r="7" fill="#9c9c9c"/>
<circle cx="545" cy="555" r="7" fill="#9c9c9c"/>
</g>
<rect x="481.4" y="536.9" width="95.8" height="83.1" filter="url(#grain3)"/>
</g>
<path d="M411.4,705.3 L413.2,708.8 L416.1,711.7 L419,717.5 L421.5,719 L423.7,720.4 L427.2,724.5 L429.5,721 L430.9,735 L432.4,778.3 L434.2,746.7 L435.6,729.2 L437.7,728 L440,735 L442.4,737.1 L445.3,735 L448.2,735.6 L451.1,733.3 L455.8,763.6 L458.7,766.6 L461.6,728.6 L464,749.6 L466.7,733.9 L469.2,749.1 L472.2,740.3 L475,737 L478,735 L480.3,728 L482.6,740.2 L485.5,732 L487.8,730.9 L490.8,727.1 L493.7,729.1 L496.6,730.3 L498.9,730.6 L501.6,724.5 L504.2,732.6 L507.1,728.5 L510,727.4 L512.4,727.1 L515.3,723.9 L517.6,726.2 L520,727.4 L522.9,726.8 L525.2,730.6 L528.1,722.1 L531.1,723.9 L533.4,725 L536.3,723.9 L538.6,725.6 L542.2,723.3 L545.1,722.1 L546.8,728 L549.2,720.4 L552.1,723.3 L555,725 L557.5,721 L560.2,720.3 L562.8,721.2 L565.5,720.8 L568.1,721.5 L570.8,721.7 L573.5,720.2 L576.1,720.1 L578.8,721.5 L581.5,722 L584.2,720 L587,719.5 L589.7,719.8 L592.4,721.2 L595.2,719.6 L597.9,720.6 L600.7,719.6 L603.4,720 L606.1,718.6 L608.9,719.9 L611.6,719.5 L614.3,720.4 L617.1,719.3 L619.8,719.8 L622.5,719.5 L625.3,717.7 L628,719.5 L630.8,718.9 L633.5,718.5 L636.2,718 L639,717.3 L641.7,719.7 L644.5,718.7 L647.2,719.4 L649.9,719.9 L652.7,719.5 L655.4,719 L658.2,720.1 L661,718.5 L663.7,719.5 L666.5,718.3 L669.3,719.6 L672,719.3 L674.8,717 L677.6,718" fill="none" stroke="#000" stroke-width="2.7" stroke-linejoin="round" stroke-linecap="round"/>
<path d="M411.6,679.9 L416.3,682.9 L424.5,686 L432,688 L440.9,690.1 L451,692.6 L461.3,695.2 L471.5,697.7 L480.8,699.9 L487.8,701.7 L492.5,705.2 L496,708.7 L499.5,708.1 L503,710.4 L505.9,713.9 L508.3,718 L509.8,723.9 L510.6,734.4 L511.8,746.1 L513.3,756.6 L514.7,760.1 L515.9,755.4 L516.8,742.6 L517.6,727.4 L518.4,723.3 L520,723.9 L522.3,718 L525.2,712.2 L529.9,708.7 L533.4,706.9 L536.9,706.9 L541.6,704 L546.2,701.4 L550.9,700.2 L554.3,699.2 L557.7,698 L561,696.8 L564.4,696.6 L567.8,695.2 L570.9,694.2 L574.1,694.3 L577.2,694.3 L580.3,692.9 L583.4,693 L586.6,692.6 L589.7,692 L592.8,691.1 L596,691.1 L599.1,691.1 L602.2,690.4 L605.3,690.3 L608.5,689.3 L611.6,689.3 L614.7,688.7 L617.9,688.2 L621,688.4 L624.1,688.6 L627.2,687.8 L630.4,687.7 L633.5,687.1 L636.6,686.8 L639.8,687 L642.9,686.1 L646,686.1 L649.1,686.4 L652.3,686.3 L655.4,685.8 L658.6,685.6 L661.7,685 L664.9,685.1 L668.1,684.9 L671.3,684.8 L674.4,685.3 L677.6,684.8" fill="none" stroke="#e0161b" stroke-width="2.7" stroke-linejoin="round" stroke-linecap="round"/>
<path d="M411.6,617.2 C414.8,617.5 424.1,618.4 430.7,619.2 C437.3,620 444.6,621.1 451.1,622.2 C457.7,623.3 465.6,624.9 470,625.8 C474.4,626.7 474.9,626.8 477.3,627.4 C479.7,628 482.2,628.5 484.6,629.2 C487,629.9 489.5,630.6 491.9,631.4 C494.3,632.2 496.8,633.1 499.2,634 C501.6,634.9 504.6,636.1 506.5,636.9 C508.4,637.7 509.2,638 510.5,638.6 C511.8,639.2 512.8,639.9 514,640.6 C515.2,641.3 516.3,642 517.5,642.8 C518.7,643.6 519.9,644.3 521,645.2 C522.1,646.1 523.3,647.1 524.3,648.1 C525.3,649.1 526.3,650.2 527.2,651.4 C528.1,652.6 528.9,653.9 529.5,655.2 C530.1,656.5 530.6,657.8 531.1,659.2 C531.6,660.6 531.9,662.1 532.2,663.6 C532.5,665.1 532.6,667.3 533,668.3 C533.4,669.2 534,669.3 534.5,669.3 C535,669.3 535.7,669.6 536.2,668.3 C536.7,667 537.1,663.5 537.7,661.4 C538.3,659.3 539,657.6 540,655.6 C541,653.6 542.4,651 543.6,649.2 C544.8,647.4 545.5,646.4 547.3,644.8 C549.1,643.2 552.2,641.1 554.6,639.7 C557,638.3 559.5,637.2 561.9,636.3 C564.3,635.4 566.8,634.8 569.2,634.1 C571.6,633.4 573.9,632.8 576.5,632.1 C579.1,631.4 581.1,630.9 585,630 C588.9,629.1 594.7,628 599.6,627 C604.5,626 609.3,625.1 614.2,624.2 C619.1,623.3 623.9,622.5 628.8,621.8 C633.7,621.1 638.5,620.5 643.4,620 C648.3,619.5 652.3,619.3 658,618.9 C663.7,618.5 674.3,617.8 677.6,617.6" fill="none" stroke="#1010cc" stroke-width="2.8" stroke-linejoin="round" stroke-linecap="round"/>
<text font-family="Liberation Sans, sans-serif" x="616.2" y="643.4" font-size="14.8" fill="#1010cc"><tspan textLength="37" lengthAdjust="spacingAndGlyphs">CoCp</tspan><tspan font-size="10.8" dy="4.5" dx="0.8">2</tspan></text>
<text font-family="Liberation Sans, sans-serif" x="623" y="706.2" font-size="14.5" fill="#e0161b" textLength="39.2" lengthAdjust="spacingAndGlyphs" >Wash</text>
<text font-family="Liberation Sans, sans-serif" x="588.8" y="740.8" font-size="14.5" fill="#1a1a1a" textLength="66.5" lengthAdjust="spacingAndGlyphs" >Oleic acid</text>
</svg></body></html>
